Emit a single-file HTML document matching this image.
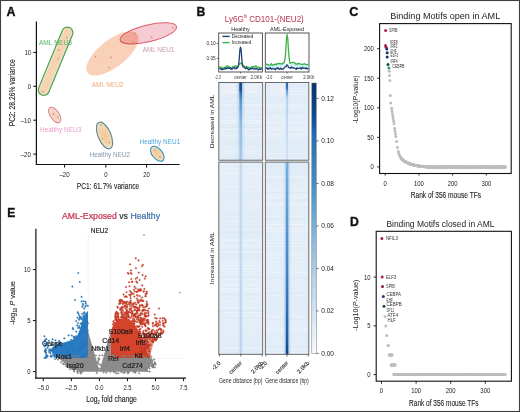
<!DOCTYPE html>
<html><head><meta charset="utf-8"><style>
html,body{margin:0;padding:0;background:#fff;}
svg{display:block;}
text{font-family:"Liberation Sans", sans-serif;}
</style></head><body>
<svg width="520" height="412" viewBox="0 0 520 412">
<rect width="520" height="412" fill="#fff"/>
<text x="6.6" y="15.5" font-size="12.4" fill="#111" font-weight="bold" stroke="#111" stroke-width="0.35">A</text>
<line x1="36.4" y1="21.4" x2="36.4" y2="165.1" stroke="#111" stroke-width="1.2"/>
<line x1="35.8" y1="164.5" x2="179.6" y2="164.5" stroke="#111" stroke-width="1.2"/>
<line x1="33.2" y1="52.4" x2="36.4" y2="52.4" stroke="#111" stroke-width="1"/>
<text x="31" y="54.8" font-size="6.9" fill="#222" text-anchor="end" textLength="6.6" lengthAdjust="spacingAndGlyphs">10</text>
<line x1="33.2" y1="86.3" x2="36.4" y2="86.3" stroke="#111" stroke-width="1"/>
<text x="31" y="88.7" font-size="6.9" fill="#222" text-anchor="end" textLength="3.3" lengthAdjust="spacingAndGlyphs">0</text>
<line x1="33.2" y1="120.2" x2="36.4" y2="120.2" stroke="#111" stroke-width="1"/>
<text x="31" y="122.60000000000001" font-size="6.9" fill="#222" text-anchor="end" textLength="10.3" lengthAdjust="spacingAndGlyphs">–10</text>
<line x1="33.2" y1="154.1" x2="36.4" y2="154.1" stroke="#111" stroke-width="1"/>
<text x="31" y="156.5" font-size="6.9" fill="#222" text-anchor="end" textLength="10.3" lengthAdjust="spacingAndGlyphs">–20</text>
<line x1="64.6" y1="164.5" x2="64.6" y2="167.6" stroke="#111" stroke-width="1"/>
<text x="64.6" y="176.6" font-size="6.9" fill="#222" text-anchor="middle" textLength="10.3" lengthAdjust="spacingAndGlyphs">–20</text>
<line x1="105.8" y1="164.5" x2="105.8" y2="167.6" stroke="#111" stroke-width="1"/>
<text x="105.8" y="176.6" font-size="6.9" fill="#222" text-anchor="middle" textLength="3.3" lengthAdjust="spacingAndGlyphs">0</text>
<line x1="146.6" y1="164.5" x2="146.6" y2="167.6" stroke="#111" stroke-width="1"/>
<text x="146.6" y="176.6" font-size="6.9" fill="#222" text-anchor="middle" textLength="6.6" lengthAdjust="spacingAndGlyphs">20</text>
<text x="108" y="188.8" font-size="8.6" fill="#222" text-anchor="middle" textLength="62.3" lengthAdjust="spacingAndGlyphs" stroke="#222" stroke-width="0.1">PC1: 61.7% variance</text>
<text x="14.9" y="92.8" font-size="8.6" fill="#222" text-anchor="middle" textLength="67" lengthAdjust="spacingAndGlyphs" transform="rotate(-90 14.9 92.8)" stroke="#222" stroke-width="0.1">PC2: 28.26% variance</text>
<defs><radialGradient id="hg"><stop offset="0" stop-color="#f4c898"/><stop offset="0.6" stop-color="#f2d2a8"/><stop offset="1" stop-color="#eae8cc"/></radialGradient><radialGradient id="hg3"><stop offset="0" stop-color="#f3cdb8"/><stop offset="0.7" stop-color="#f4d8c8"/><stop offset="1" stop-color="#eee6d2"/></radialGradient><linearGradient id="ng" x1="0" y1="0" x2="0" y2="1"><stop offset="0" stop-color="#e6edd0"/><stop offset="0.25" stop-color="#f7d3b3"/><stop offset="0.75" stop-color="#f7d3b3"/><stop offset="1" stop-color="#e6edd0"/></linearGradient></defs>
<ellipse cx="112.5" cy="53.5" rx="31.5" ry="13.5" transform="rotate(-38 112.5 53.5)" fill="#f9d1b8" stroke="none"/>
<g style="mix-blend-mode:multiply">
<ellipse cx="148.3" cy="33.4" rx="29" ry="8.4" transform="rotate(-13.4 148.3 33.4)" fill="#f6cbd4" stroke="#dc5f6a" stroke-width="1.0"/>
</g>
<rect x="19.1" y="55.8" width="73" height="11" rx="5.5" transform="rotate(-67.6 55.6 61.3)" fill="url(#ng)" stroke="#45a04d" stroke-width="1.15"/>
<ellipse cx="54.7" cy="115" rx="8.9" ry="4.5" transform="rotate(56 54.7 115)" fill="url(#hg3)" stroke="#e07d8e" stroke-width="1.0"/>
<ellipse cx="104.5" cy="135.5" rx="14.2" ry="6.4" transform="rotate(67 104.5 135.5)" fill="url(#hg)" stroke="#62808f" stroke-width="1.1"/>
<ellipse cx="157.3" cy="153.8" rx="8.8" ry="5.0" transform="rotate(50 157.3 153.8)" fill="url(#hg)" stroke="#2f8cbc" stroke-width="1.1"/>
<circle cx="67" cy="37.4" r="0.85" fill="#bf927a" opacity="0.85"/>
<circle cx="58.9" cy="50" r="0.85" fill="#bf927a" opacity="0.85"/>
<circle cx="58.3" cy="58.8" r="0.85" fill="#bf927a" opacity="0.85"/>
<circle cx="42.8" cy="91.7" r="0.85" fill="#bf927a" opacity="0.85"/>
<circle cx="95.5" cy="56.5" r="0.85" fill="#bf927a" opacity="0.85"/>
<circle cx="111" cy="57.4" r="0.85" fill="#bf927a" opacity="0.85"/>
<circle cx="109" cy="67.6" r="0.85" fill="#bf927a" opacity="0.85"/>
<circle cx="135" cy="33.4" r="0.85" fill="#bf927a" opacity="0.85"/>
<circle cx="133.6" cy="42" r="0.85" fill="#bf927a" opacity="0.85"/>
<circle cx="151.7" cy="37.2" r="0.85" fill="#bf927a" opacity="0.85"/>
<circle cx="172.8" cy="27.6" r="0.85" fill="#bf927a" opacity="0.85"/>
<circle cx="53.4" cy="113.9" r="0.85" fill="#bf927a" opacity="0.85"/>
<circle cx="58" cy="117" r="0.85" fill="#bf927a" opacity="0.85"/>
<circle cx="101" cy="125.2" r="0.85" fill="#bf927a" opacity="0.85"/>
<circle cx="102.2" cy="138.6" r="0.85" fill="#bf927a" opacity="0.85"/>
<circle cx="109.3" cy="142.6" r="0.85" fill="#bf927a" opacity="0.85"/>
<circle cx="155" cy="150" r="0.85" fill="#bf927a" opacity="0.85"/>
<circle cx="160" cy="157" r="0.85" fill="#bf927a" opacity="0.85"/>
<text x="38.9" y="45.2" font-size="6.6" fill="#5cb463" textLength="33" lengthAdjust="spacingAndGlyphs">AML NEU3</text>
<text x="142.7" y="51.5" font-size="6.6" fill="#c99aa8" textLength="31.7" lengthAdjust="spacingAndGlyphs">AML NEU1</text>
<text x="91.7" y="86.6" font-size="6.6" fill="#f0a878" textLength="31.7" lengthAdjust="spacingAndGlyphs">AML NEU2</text>
<text x="40" y="132.3" font-size="6.6" fill="#ec9cc8" textLength="41.4" lengthAdjust="spacingAndGlyphs">Healthy NEU3</text>
<text x="89.6" y="156.7" font-size="6.6" fill="#8095aa" textLength="40.5" lengthAdjust="spacingAndGlyphs">Healthy NEU2</text>
<text x="139.5" y="143.7" font-size="6.6" fill="#4ea6d8" textLength="40.8" lengthAdjust="spacingAndGlyphs">Healthy NEU1</text>
<text x="196.5" y="15.8" font-size="12.2" fill="#111" font-weight="bold" stroke="#111" stroke-width="0.35">B</text>
<text x="224.8" y="21.8" font-size="8.6" fill="#b8334f" textLength="79" lengthAdjust="spacingAndGlyphs">Ly6G<tspan font-size="4.5" dy="-3.6">hi</tspan><tspan dy="3.6"> CD101-(NEU2)</tspan></text>
<text x="240.6" y="30.8" font-size="6.0" fill="#222" text-anchor="middle" textLength="18.5" lengthAdjust="spacingAndGlyphs">Healthy</text>
<text x="287.1" y="30.8" font-size="6.0" fill="#222" text-anchor="middle" textLength="34" lengthAdjust="spacingAndGlyphs">AML-Exposed</text>
<rect x="218.7" y="33" width="43.7" height="39" fill="#fff" stroke="#444" stroke-width="0.9"/>
<polygon points="219.2,66.7 219.8,67.0 220.4,67.4 221.0,67.0 221.6,67.2 222.2,68.2 222.9,68.5 223.5,68.1 224.1,67.4 224.7,67.4 225.3,67.0 225.9,67.3 226.5,66.4 227.1,65.8 227.7,65.8 228.3,66.3 229.0,66.5 229.6,67.2 230.2,67.6 230.8,67.9 231.4,67.8 232.0,67.8 232.6,66.7 233.2,66.3 233.8,66.3 234.4,67.5 235.1,65.9 235.7,65.8 236.3,66.3 236.9,67.1 237.5,66.9 238.1,66.2 238.7,65.3 239.3,63.7 239.9,64.0 240.5,63.4 241.2,62.9 241.8,63.7 242.4,64.5 243.0,65.3 243.6,65.7 244.2,66.0 244.8,66.7 245.4,67.1 246.0,67.1 246.6,66.4 247.3,66.8 247.9,66.8 248.5,67.2 249.1,67.8 249.7,67.9 250.3,67.6 250.9,67.8 251.5,66.8 252.1,66.7 252.7,66.8 253.4,66.7 254.0,66.4 254.6,67.0 255.2,66.5 255.8,65.8 256.4,66.2 257.0,66.9 257.6,67.4 258.2,67.1 258.8,67.2 259.5,67.4 260.1,68.4 260.7,68.2 261.3,67.5 261.9,67.7 261.9,69.1 261.3,69.2 260.7,69.5 260.1,69.0 259.5,68.8 258.8,69.5 258.2,70.0 257.6,68.8 257.0,68.8 256.4,68.5 255.8,69.0 255.2,68.4 254.6,68.9 254.0,69.1 253.4,68.9 252.7,68.0 252.1,68.3 251.5,68.7 250.9,69.0 250.3,68.7 249.7,69.1 249.1,69.6 248.5,69.9 247.9,68.7 247.3,68.4 246.6,67.5 246.0,68.6 245.4,68.6 244.8,67.9 244.2,67.2 243.6,67.2 243.0,66.8 242.4,65.2 241.8,64.2 241.2,63.4 240.5,63.9 239.9,64.5 239.3,64.2 238.7,65.8 238.1,66.7 237.5,68.0 236.9,67.6 236.3,68.7 235.7,68.4 235.1,68.8 234.4,68.0 233.8,67.8 233.2,67.8 232.6,68.4 232.0,69.5 231.4,68.7 230.8,69.0 230.2,68.1 229.6,68.3 229.0,68.4 228.3,68.0 227.7,67.6 227.1,68.7 226.5,68.3 225.9,68.2 225.3,69.0 224.7,68.5 224.1,68.9 223.5,69.2 222.9,69.0 222.2,69.8 221.6,69.2 221.0,69.5 220.4,68.5 219.8,68.7 219.2,68.5" fill="#bff0ee" opacity="0.8"/>
<polyline points="219.2,66.7 219.8,67.0 220.4,67.4 221.0,67.0 221.6,67.2 222.2,68.2 222.9,68.5 223.5,68.1 224.1,67.4 224.7,67.4 225.3,67.0 225.9,67.3 226.5,66.4 227.1,65.8 227.7,65.8 228.3,66.3 229.0,66.5 229.6,67.2 230.2,67.6 230.8,67.9 231.4,67.8 232.0,67.8 232.6,66.7 233.2,66.3 233.8,66.3 234.4,67.5 235.1,65.9 235.7,65.8 236.3,66.3 236.9,67.1 237.5,66.9 238.1,66.2 238.7,65.3 239.3,63.7 239.9,64.0 240.5,63.4 241.2,62.9 241.8,63.7 242.4,64.5 243.0,65.3 243.6,65.7 244.2,66.0 244.8,66.7 245.4,67.1 246.0,67.1 246.6,66.4 247.3,66.8 247.9,66.8 248.5,67.2 249.1,67.8 249.7,67.9 250.3,67.6 250.9,67.8 251.5,66.8 252.1,66.7 252.7,66.8 253.4,66.7 254.0,66.4 254.6,67.0 255.2,66.5 255.8,65.8 256.4,66.2 257.0,66.9 257.6,67.4 258.2,67.1 258.8,67.2 259.5,67.4 260.1,68.4 260.7,68.2 261.3,67.5 261.9,67.7" fill="none" stroke="#3cb54a" stroke-width="1.3" stroke-linejoin="round"/>
<polyline points="219.2,68.5 219.8,68.7 220.4,68.5 221.0,69.5 221.6,69.2 222.2,69.8 222.9,68.9 223.5,69.2 224.1,68.9 224.7,68.5 225.3,69.0 225.9,68.2 226.5,68.3 227.1,68.7 227.7,67.6 228.3,68.0 229.0,68.4 229.6,68.3 230.2,67.6 230.8,69.0 231.4,68.7 232.0,69.5 232.6,68.4 233.2,67.8 233.8,67.8 234.4,67.7 235.1,68.8 235.7,68.4 236.3,68.7 236.9,67.6 237.5,68.0 238.1,66.6 238.7,64.3 239.3,58.2 239.9,49.6 240.5,47.1 241.2,50.5 241.8,58.5 242.4,65.2 243.0,66.8 243.6,67.2 244.2,67.2 244.8,67.9 245.4,68.6 246.0,68.6 246.6,67.5 247.3,68.4 247.9,68.7 248.5,69.9 249.1,69.6 249.7,69.1 250.3,68.7 250.9,69.0 251.5,68.7 252.1,68.3 252.7,68.0 253.4,68.9 254.0,69.1 254.6,68.9 255.2,68.4 255.8,69.0 256.4,68.5 257.0,68.8 257.6,68.8 258.2,70.0 258.8,69.5 259.5,68.8 260.1,69.0 260.7,69.5 261.3,69.2 261.9,69.1" fill="none" stroke="#1d3f78" stroke-width="1.3" stroke-linejoin="round"/>
<line x1="240.54999999999998" y1="72" x2="240.54999999999998" y2="73.5" stroke="#444" stroke-width="0.8"/>
<rect x="265.3" y="33" width="43.7" height="39" fill="#fff" stroke="#444" stroke-width="0.9"/>
<polygon points="265.8,64.8 266.4,64.1 267.0,64.1 267.6,64.9 268.2,64.4 268.9,65.3 269.5,65.4 270.1,65.1 270.7,64.4 271.3,63.6 271.9,65.2 272.5,65.3 273.1,64.6 273.7,64.7 274.3,65.0 274.9,64.1 275.6,64.0 276.2,64.8 276.8,64.1 277.4,63.9 278.0,63.2 278.6,63.8 279.2,63.4 279.8,63.4 280.4,64.0 281.1,63.7 281.7,63.6 282.3,64.0 282.9,63.0 283.5,63.0 284.1,62.7 284.7,60.6 285.3,56.6 285.9,48.6 286.5,38.6 287.1,34.5 287.8,38.7 288.4,49.4 289.0,56.7 289.6,61.7 290.2,63.3 290.8,62.6 291.4,62.7 292.0,62.5 292.6,62.5 293.2,62.3 293.9,62.5 294.5,63.0 295.1,63.0 295.7,64.1 296.3,64.1 296.9,63.9 297.5,64.0 298.1,63.2 298.7,63.8 299.4,63.6 300.0,63.8 300.6,64.2 301.2,64.3 301.8,64.3 302.4,64.4 303.0,64.3 303.6,64.2 304.2,63.4 304.8,64.1 305.4,64.3 306.1,64.3 306.7,64.7 307.3,64.7 307.9,64.3 308.5,65.2 308.5,68.4 307.9,67.8 307.3,68.2 306.7,68.2 306.1,67.8 305.4,67.8 304.8,67.6 304.2,66.9 303.6,67.7 303.0,67.8 302.4,67.3 301.8,67.8 301.2,67.8 300.6,67.7 300.0,67.3 299.4,67.1 298.7,67.3 298.1,66.7 297.5,67.5 296.9,67.4 296.3,67.6 295.7,67.6 295.1,66.5 294.5,66.5 293.9,66.0 293.2,65.8 292.6,66.0 292.0,66.0 291.4,66.2 290.8,66.1 290.2,66.8 289.6,65.2 289.0,60.2 288.4,52.9 287.8,42.2 287.1,38.0 286.5,42.1 285.9,52.1 285.3,60.1 284.7,64.1 284.1,66.2 283.5,66.5 282.9,66.5 282.3,67.5 281.7,67.1 281.1,67.2 280.4,67.5 279.8,66.9 279.2,66.9 278.6,67.3 278.0,66.7 277.4,67.4 276.8,67.6 276.2,68.3 275.6,67.5 274.9,67.6 274.3,68.5 273.7,68.2 273.1,68.1 272.5,68.4 271.9,68.7 271.3,67.1 270.7,67.9 270.1,67.7 269.5,68.7 268.9,68.3 268.2,67.9 267.6,68.4 267.0,67.6 266.4,67.6 265.8,68.3" fill="#bff0ee" opacity="0.8"/>
<polyline points="265.8,64.8 266.4,64.1 267.0,64.1 267.6,64.9 268.2,64.4 268.9,65.3 269.5,65.4 270.1,65.1 270.7,64.4 271.3,63.6 271.9,65.2 272.5,65.3 273.1,64.6 273.7,64.7 274.3,65.0 274.9,64.1 275.6,64.0 276.2,64.8 276.8,64.1 277.4,63.9 278.0,63.2 278.6,63.8 279.2,63.4 279.8,63.4 280.4,64.0 281.1,63.7 281.7,63.6 282.3,64.0 282.9,63.0 283.5,63.0 284.1,62.7 284.7,60.6 285.3,56.6 285.9,48.6 286.5,38.6 287.1,34.5 287.8,38.7 288.4,49.4 289.0,56.7 289.6,61.7 290.2,63.3 290.8,62.6 291.4,62.7 292.0,62.5 292.6,62.5 293.2,62.3 293.9,62.5 294.5,63.0 295.1,63.0 295.7,64.1 296.3,64.1 296.9,63.9 297.5,64.0 298.1,63.2 298.7,63.8 299.4,63.6 300.0,63.8 300.6,64.2 301.2,64.3 301.8,64.3 302.4,64.4 303.0,64.3 303.6,64.2 304.2,63.4 304.8,64.1 305.4,64.3 306.1,64.3 306.7,64.7 307.3,64.7 307.9,64.3 308.5,65.2" fill="none" stroke="#3cb54a" stroke-width="1.3" stroke-linejoin="round"/>
<polyline points="265.8,68.6 266.4,67.9 267.0,67.8 267.6,69.0 268.2,69.3 268.9,68.3 269.5,68.7 270.1,67.7 270.7,67.9 271.3,69.3 271.9,68.9 272.5,68.4 273.1,68.7 273.7,68.9 274.3,69.2 274.9,68.8 275.6,69.8 276.2,68.4 276.8,68.2 277.4,68.3 278.0,67.6 278.6,68.9 279.2,69.3 279.8,69.0 280.4,68.1 281.1,69.1 281.7,68.5 282.3,69.1 282.9,69.0 283.5,68.8 284.1,68.0 284.7,67.0 285.3,66.8 285.9,66.9 286.5,65.3 287.1,64.9 287.8,65.5 288.4,67.2 289.0,67.6 289.6,67.8 290.2,67.5 290.8,68.3 291.4,67.0 292.0,67.7 292.6,67.3 293.2,68.1 293.9,68.0 294.5,68.1 295.1,68.4 295.7,69.0 296.3,69.4 296.9,67.8 297.5,68.2 298.1,68.6 298.7,68.3 299.4,68.3 300.0,67.8 300.6,68.5 301.2,69.1 301.8,67.9 302.4,67.3 303.0,68.4 303.6,68.1 304.2,68.2 304.8,68.2 305.4,68.7 306.1,67.8 306.7,68.7 307.3,69.0 307.9,68.3 308.5,68.4" fill="none" stroke="#1d3f78" stroke-width="1.3" stroke-linejoin="round"/>
<line x1="287.15" y1="72" x2="287.15" y2="73.5" stroke="#444" stroke-width="0.8"/>
<text x="215" y="79.0" font-size="4.7" fill="#333" textLength="5.8" lengthAdjust="spacingAndGlyphs">-2.0</text>
<text x="234.2" y="79.0" font-size="4.7" fill="#333" textLength="12.5" lengthAdjust="spacingAndGlyphs">center</text>
<text x="250.6" y="79.0" font-size="4.7" fill="#333" textLength="11.5" lengthAdjust="spacingAndGlyphs">2.0Kb</text>
<text x="266" y="79.0" font-size="4.7" fill="#333" textLength="6.3" lengthAdjust="spacingAndGlyphs">-2.0</text>
<text x="281.3" y="79.0" font-size="4.7" fill="#333" textLength="11.6" lengthAdjust="spacingAndGlyphs">center</text>
<text x="303.2" y="79.0" font-size="4.7" fill="#333" textLength="11.2" lengthAdjust="spacingAndGlyphs">2.0Kb</text>
<line x1="216.8" y1="43.4" x2="218.7" y2="43.4" stroke="#444" stroke-width="0.8"/>
<text x="215.8" y="45.1" font-size="4.8" fill="#333" text-anchor="end">0.10</text>
<line x1="216.8" y1="58.4" x2="218.7" y2="58.4" stroke="#444" stroke-width="0.8"/>
<text x="215.8" y="60.1" font-size="4.8" fill="#333" text-anchor="end">0.05</text>
<line x1="222.4" y1="36.4" x2="229.7" y2="36.4" stroke="#1d3f78" stroke-width="1.4"/>
<text x="231.8" y="38.0" font-size="4.8" fill="#222" textLength="21.5" lengthAdjust="spacingAndGlyphs">Decreased</text>
<line x1="222.4" y1="42.6" x2="229.7" y2="42.6" stroke="#3cb54a" stroke-width="1.4"/>
<text x="231.8" y="44.2" font-size="4.8" fill="#222" textLength="19.5" lengthAdjust="spacingAndGlyphs">Increased</text>
<defs>
<linearGradient id="cb" x1="0" y1="0" x2="0" y2="1"><stop offset="0" stop-color="#08306b"/><stop offset="0.12" stop-color="#0d4a94"/><stop offset="0.2" stop-color="#2171b5"/><stop offset="0.38" stop-color="#4292c6"/><stop offset="0.55" stop-color="#7fb3da"/><stop offset="0.72" stop-color="#b4d2ea"/><stop offset="0.88" stop-color="#dbe9f6"/><stop offset="1" stop-color="#f7fbff"/></linearGradient>
<linearGradient id="hd" x1="0" y1="0" x2="0" y2="1"><stop offset="0" stop-color="#18457f"/><stop offset="0.1" stop-color="#2a66a8"/><stop offset="0.25" stop-color="#5d98cf"/><stop offset="0.55" stop-color="#94bde3"/><stop offset="1" stop-color="#a8c9e8"/></linearGradient>
<linearGradient id="ad" x1="0" y1="0" x2="0" y2="1"><stop offset="0" stop-color="#23609f"/><stop offset="0.08" stop-color="#4584c3"/><stop offset="0.2" stop-color="#b4d0ec"/><stop offset="1" stop-color="#d0e2f4"/></linearGradient>
<linearGradient id="hi" x1="0" y1="0" x2="0" y2="1"><stop offset="0" stop-color="#c6daef"/><stop offset="1" stop-color="#bad3ec"/></linearGradient>
<linearGradient id="ai" x1="0" y1="0" x2="0" y2="1"><stop offset="0" stop-color="#78aedb"/><stop offset="0.3" stop-color="#5a98d0"/><stop offset="0.6" stop-color="#3f80c4"/><stop offset="0.8" stop-color="#2a6ab2"/><stop offset="0.92" stop-color="#1f5aa2"/><stop offset="1" stop-color="#163f80"/></linearGradient>
<linearGradient id="halo" x1="0" y1="0" x2="1" y2="0"><stop offset="0" stop-color="#8fb9e2" stop-opacity="0"/><stop offset="0.5" stop-color="#8fb9e2" stop-opacity="1"/><stop offset="1" stop-color="#8fb9e2" stop-opacity="0"/></linearGradient>
</defs>
<rect x="218.8" y="82.5" width="43.9" height="77.7" fill="#e2edf8"/>
<rect x="218.8" y="82.5" width="43.9" height="0.5" fill="#d6e4f4" opacity="0.42"/>
<rect x="218.8" y="84.2" width="43.9" height="0.7" fill="#ffffff" opacity="0.42"/>
<rect x="218.8" y="85.7" width="43.9" height="1.0" fill="#ffffff" opacity="0.2"/>
<rect x="218.8" y="88.5" width="43.9" height="1.0" fill="#ffffff" opacity="0.2"/>
<rect x="218.8" y="92.0" width="43.9" height="1.0" fill="#ffffff" opacity="0.42"/>
<rect x="218.8" y="95.5" width="43.9" height="1.0" fill="#ffffff" opacity="0.2"/>
<rect x="218.8" y="97.7" width="43.9" height="1.0" fill="#d6e4f4" opacity="0.3"/>
<rect x="218.8" y="99.5" width="43.9" height="1.0" fill="#ffffff" opacity="0.2"/>
<rect x="218.8" y="101.3" width="43.9" height="0.7" fill="#ffffff" opacity="0.2"/>
<rect x="218.8" y="104.5" width="43.9" height="1.0" fill="#ffffff" opacity="0.42"/>
<rect x="218.8" y="108.0" width="43.9" height="0.7" fill="#d6e4f4" opacity="0.42"/>
<rect x="218.8" y="111.2" width="43.9" height="0.5" fill="#ffffff" opacity="0.3"/>
<rect x="218.8" y="112.5" width="43.9" height="0.5" fill="#ffffff" opacity="0.3"/>
<rect x="218.8" y="114.8" width="43.9" height="1.0" fill="#d6e4f4" opacity="0.3"/>
<rect x="218.8" y="117.6" width="43.9" height="0.7" fill="#ffffff" opacity="0.42"/>
<rect x="218.8" y="120.1" width="43.9" height="1.0" fill="#ffffff" opacity="0.42"/>
<rect x="218.8" y="122.3" width="43.9" height="0.7" fill="#ffffff" opacity="0.42"/>
<rect x="218.8" y="124.8" width="43.9" height="1.0" fill="#d6e4f4" opacity="0.42"/>
<rect x="218.8" y="127.0" width="43.9" height="1.0" fill="#d6e4f4" opacity="0.3"/>
<rect x="218.8" y="128.8" width="43.9" height="1.0" fill="#ffffff" opacity="0.42"/>
<rect x="218.8" y="131.6" width="43.9" height="0.7" fill="#ffffff" opacity="0.2"/>
<rect x="218.8" y="134.8" width="43.9" height="1.0" fill="#ffffff" opacity="0.3"/>
<rect x="218.8" y="137.6" width="43.9" height="0.5" fill="#ffffff" opacity="0.3"/>
<rect x="218.8" y="138.9" width="43.9" height="0.7" fill="#ffffff" opacity="0.3"/>
<rect x="218.8" y="140.4" width="43.9" height="0.5" fill="#d6e4f4" opacity="0.42"/>
<rect x="218.8" y="141.7" width="43.9" height="0.7" fill="#d6e4f4" opacity="0.42"/>
<rect x="218.8" y="144.2" width="43.9" height="1.0" fill="#d6e4f4" opacity="0.3"/>
<rect x="218.8" y="146.4" width="43.9" height="0.5" fill="#ffffff" opacity="0.3"/>
<rect x="218.8" y="147.7" width="43.9" height="0.5" fill="#d6e4f4" opacity="0.42"/>
<rect x="218.8" y="149.0" width="43.9" height="0.5" fill="#ffffff" opacity="0.3"/>
<rect x="218.8" y="151.3" width="43.9" height="0.5" fill="#ffffff" opacity="0.42"/>
<rect x="218.8" y="153.6" width="43.9" height="0.7" fill="#ffffff" opacity="0.3"/>
<rect x="218.8" y="156.8" width="43.9" height="0.7" fill="#d6e4f4" opacity="0.3"/>
<rect x="218.8" y="160.0" width="43.9" height="1.0" fill="#d6e4f4" opacity="0.42"/>
<rect x="236.2" y="82.5" width="9" height="15.6" fill="url(#halo)" opacity="0.9"/>
<rect x="236.2" y="98.0" width="9" height="15.6" fill="url(#halo)" opacity="0.6"/>
<rect x="236.2" y="113.6" width="9" height="15.6" fill="url(#halo)" opacity="0.45"/>
<rect x="236.2" y="129.1" width="9" height="15.6" fill="url(#halo)" opacity="0.4"/>
<rect x="236.2" y="144.7" width="9" height="15.6" fill="url(#halo)" opacity="0.35"/>
<rect x="239.45" y="82.5" width="2.6" height="77.7" fill="url(#hd)"/>
<rect x="218.8" y="82.5" width="43.9" height="77.7" fill="none" stroke="#5a5a5a" stroke-width="0.9"/>
<rect x="265.3" y="82.5" width="43.5" height="77.7" fill="#e2edf8"/>
<rect x="265.3" y="82.5" width="43.5" height="1.0" fill="#ffffff" opacity="0.42"/>
<rect x="265.3" y="86.0" width="43.5" height="1.0" fill="#d6e4f4" opacity="0.42"/>
<rect x="265.3" y="88.2" width="43.5" height="0.7" fill="#ffffff" opacity="0.3"/>
<rect x="265.3" y="90.7" width="43.5" height="1.0" fill="#ffffff" opacity="0.3"/>
<rect x="265.3" y="94.2" width="43.5" height="1.0" fill="#ffffff" opacity="0.3"/>
<rect x="265.3" y="97.7" width="43.5" height="1.0" fill="#d6e4f4" opacity="0.42"/>
<rect x="265.3" y="99.9" width="43.5" height="0.5" fill="#d6e4f4" opacity="0.42"/>
<rect x="265.3" y="102.2" width="43.5" height="0.7" fill="#d6e4f4" opacity="0.3"/>
<rect x="265.3" y="104.7" width="43.5" height="1.0" fill="#ffffff" opacity="0.42"/>
<rect x="265.3" y="108.2" width="43.5" height="0.5" fill="#ffffff" opacity="0.42"/>
<rect x="265.3" y="109.5" width="43.5" height="0.7" fill="#d6e4f4" opacity="0.3"/>
<rect x="265.3" y="112.7" width="43.5" height="0.7" fill="#d6e4f4" opacity="0.42"/>
<rect x="265.3" y="115.2" width="43.5" height="0.5" fill="#ffffff" opacity="0.3"/>
<rect x="265.3" y="117.5" width="43.5" height="0.7" fill="#ffffff" opacity="0.42"/>
<rect x="265.3" y="120.0" width="43.5" height="0.7" fill="#ffffff" opacity="0.2"/>
<rect x="265.3" y="121.9" width="43.5" height="0.7" fill="#ffffff" opacity="0.42"/>
<rect x="265.3" y="124.4" width="43.5" height="0.5" fill="#ffffff" opacity="0.3"/>
<rect x="265.3" y="127.4" width="43.5" height="1.0" fill="#ffffff" opacity="0.42"/>
<rect x="265.3" y="129.2" width="43.5" height="1.0" fill="#ffffff" opacity="0.3"/>
<rect x="265.3" y="131.4" width="43.5" height="0.7" fill="#ffffff" opacity="0.2"/>
<rect x="265.3" y="133.9" width="43.5" height="1.0" fill="#ffffff" opacity="0.42"/>
<rect x="265.3" y="137.4" width="43.5" height="0.7" fill="#ffffff" opacity="0.2"/>
<rect x="265.3" y="138.9" width="43.5" height="1.0" fill="#ffffff" opacity="0.2"/>
<rect x="265.3" y="141.1" width="43.5" height="0.7" fill="#d6e4f4" opacity="0.3"/>
<rect x="265.3" y="142.6" width="43.5" height="1.0" fill="#d6e4f4" opacity="0.3"/>
<rect x="265.3" y="144.8" width="43.5" height="0.7" fill="#d6e4f4" opacity="0.3"/>
<rect x="265.3" y="147.3" width="43.5" height="0.7" fill="#d6e4f4" opacity="0.3"/>
<rect x="265.3" y="150.5" width="43.5" height="0.7" fill="#d6e4f4" opacity="0.3"/>
<rect x="265.3" y="153.7" width="43.5" height="0.5" fill="#ffffff" opacity="0.3"/>
<rect x="265.3" y="155.4" width="43.5" height="0.5" fill="#d6e4f4" opacity="0.3"/>
<rect x="265.3" y="158.4" width="43.5" height="1.0" fill="#ffffff" opacity="0.42"/>
<rect x="265.3" y="160.2" width="43.5" height="1.0" fill="#d6e4f4" opacity="0.3"/>
<rect x="284.1" y="82.5" width="6" height="15.6" fill="url(#halo)" opacity="0.35"/>
<rect x="284.1" y="98.0" width="6" height="15.6" fill="url(#halo)" opacity="0.12"/>
<rect x="284.1" y="113.6" width="6" height="15.6" fill="url(#halo)" opacity="0.08"/>
<rect x="284.1" y="129.1" width="6" height="15.6" fill="url(#halo)" opacity="0.08"/>
<rect x="284.1" y="144.7" width="6" height="15.6" fill="url(#halo)" opacity="0.08"/>
<rect x="286.15" y="82.5" width="1.8" height="77.7" fill="url(#ad)"/>
<rect x="265.3" y="82.5" width="43.5" height="77.7" fill="none" stroke="#5a5a5a" stroke-width="0.9"/>
<rect x="218.8" y="162.1" width="43.9" height="192.2" fill="#e2edf8"/>
<rect x="218.8" y="162.1" width="43.9" height="1.0" fill="#ffffff" opacity="0.3"/>
<rect x="218.8" y="163.9" width="43.9" height="1.0" fill="#ffffff" opacity="0.3"/>
<rect x="218.8" y="166.1" width="43.9" height="0.5" fill="#d6e4f4" opacity="0.2"/>
<rect x="218.8" y="167.8" width="43.9" height="0.7" fill="#ffffff" opacity="0.42"/>
<rect x="218.8" y="169.3" width="43.9" height="0.7" fill="#ffffff" opacity="0.42"/>
<rect x="218.8" y="171.2" width="43.9" height="1.0" fill="#ffffff" opacity="0.3"/>
<rect x="218.8" y="173.0" width="43.9" height="1.0" fill="#ffffff" opacity="0.42"/>
<rect x="218.8" y="174.8" width="43.9" height="1.0" fill="#ffffff" opacity="0.2"/>
<rect x="218.8" y="177.0" width="43.9" height="0.7" fill="#ffffff" opacity="0.42"/>
<rect x="218.8" y="178.5" width="43.9" height="0.7" fill="#ffffff" opacity="0.2"/>
<rect x="218.8" y="180.0" width="43.9" height="1.0" fill="#ffffff" opacity="0.2"/>
<rect x="218.8" y="182.2" width="43.9" height="0.7" fill="#ffffff" opacity="0.2"/>
<rect x="218.8" y="185.4" width="43.9" height="1.0" fill="#ffffff" opacity="0.42"/>
<rect x="218.8" y="187.2" width="43.9" height="0.7" fill="#ffffff" opacity="0.2"/>
<rect x="218.8" y="190.4" width="43.9" height="0.5" fill="#ffffff" opacity="0.3"/>
<rect x="218.8" y="191.7" width="43.9" height="0.5" fill="#ffffff" opacity="0.2"/>
<rect x="218.8" y="193.0" width="43.9" height="0.5" fill="#ffffff" opacity="0.2"/>
<rect x="218.8" y="194.3" width="43.9" height="1.0" fill="#d6e4f4" opacity="0.2"/>
<rect x="218.8" y="197.8" width="43.9" height="0.7" fill="#ffffff" opacity="0.2"/>
<rect x="218.8" y="199.3" width="43.9" height="0.7" fill="#d6e4f4" opacity="0.3"/>
<rect x="218.8" y="202.5" width="43.9" height="1.0" fill="#ffffff" opacity="0.3"/>
<rect x="218.8" y="205.3" width="43.9" height="0.5" fill="#ffffff" opacity="0.3"/>
<rect x="218.8" y="206.6" width="43.9" height="0.5" fill="#ffffff" opacity="0.42"/>
<rect x="218.8" y="209.6" width="43.9" height="0.5" fill="#ffffff" opacity="0.42"/>
<rect x="218.8" y="210.9" width="43.9" height="0.7" fill="#d6e4f4" opacity="0.3"/>
<rect x="218.8" y="214.1" width="43.9" height="1.0" fill="#d6e4f4" opacity="0.2"/>
<rect x="218.8" y="217.6" width="43.9" height="0.5" fill="#d6e4f4" opacity="0.3"/>
<rect x="218.8" y="220.6" width="43.9" height="1.0" fill="#ffffff" opacity="0.3"/>
<rect x="218.8" y="224.1" width="43.9" height="0.7" fill="#ffffff" opacity="0.2"/>
<rect x="218.8" y="226.0" width="43.9" height="1.0" fill="#d6e4f4" opacity="0.3"/>
<rect x="218.8" y="227.8" width="43.9" height="0.7" fill="#ffffff" opacity="0.2"/>
<rect x="218.8" y="229.7" width="43.9" height="0.5" fill="#ffffff" opacity="0.3"/>
<rect x="218.8" y="232.0" width="43.9" height="0.5" fill="#d6e4f4" opacity="0.3"/>
<rect x="218.8" y="233.3" width="43.9" height="1.0" fill="#d6e4f4" opacity="0.42"/>
<rect x="218.8" y="236.8" width="43.9" height="1.0" fill="#d6e4f4" opacity="0.2"/>
<rect x="218.8" y="239.6" width="43.9" height="1.0" fill="#ffffff" opacity="0.42"/>
<rect x="218.8" y="241.4" width="43.9" height="0.7" fill="#ffffff" opacity="0.2"/>
<rect x="218.8" y="244.6" width="43.9" height="0.5" fill="#ffffff" opacity="0.42"/>
<rect x="218.8" y="245.9" width="43.9" height="1.0" fill="#ffffff" opacity="0.3"/>
<rect x="218.8" y="247.7" width="43.9" height="0.7" fill="#ffffff" opacity="0.2"/>
<rect x="218.8" y="249.2" width="43.9" height="1.0" fill="#d6e4f4" opacity="0.3"/>
<rect x="218.8" y="252.0" width="43.9" height="1.0" fill="#ffffff" opacity="0.3"/>
<rect x="218.8" y="253.8" width="43.9" height="1.0" fill="#d6e4f4" opacity="0.42"/>
<rect x="218.8" y="256.0" width="43.9" height="0.5" fill="#d6e4f4" opacity="0.42"/>
<rect x="218.8" y="257.3" width="43.9" height="1.0" fill="#d6e4f4" opacity="0.2"/>
<rect x="218.8" y="260.1" width="43.9" height="1.0" fill="#ffffff" opacity="0.2"/>
<rect x="218.8" y="262.3" width="43.9" height="0.5" fill="#ffffff" opacity="0.42"/>
<rect x="218.8" y="265.3" width="43.9" height="1.0" fill="#ffffff" opacity="0.42"/>
<rect x="218.8" y="268.1" width="43.9" height="0.7" fill="#ffffff" opacity="0.42"/>
<rect x="218.8" y="270.6" width="43.9" height="1.0" fill="#ffffff" opacity="0.3"/>
<rect x="218.8" y="274.1" width="43.9" height="1.0" fill="#ffffff" opacity="0.2"/>
<rect x="218.8" y="276.3" width="43.9" height="0.7" fill="#d6e4f4" opacity="0.42"/>
<rect x="218.8" y="279.5" width="43.9" height="0.5" fill="#ffffff" opacity="0.42"/>
<rect x="218.8" y="281.2" width="43.9" height="0.5" fill="#ffffff" opacity="0.2"/>
<rect x="218.8" y="284.2" width="43.9" height="1.0" fill="#ffffff" opacity="0.42"/>
<rect x="218.8" y="286.4" width="43.9" height="0.5" fill="#ffffff" opacity="0.3"/>
<rect x="218.8" y="288.1" width="43.9" height="1.0" fill="#ffffff" opacity="0.42"/>
<rect x="218.8" y="290.3" width="43.9" height="1.0" fill="#ffffff" opacity="0.42"/>
<rect x="218.8" y="293.8" width="43.9" height="1.0" fill="#d6e4f4" opacity="0.42"/>
<rect x="218.8" y="296.6" width="43.9" height="0.5" fill="#ffffff" opacity="0.3"/>
<rect x="218.8" y="298.9" width="43.9" height="0.7" fill="#ffffff" opacity="0.3"/>
<rect x="218.8" y="300.8" width="43.9" height="1.0" fill="#ffffff" opacity="0.3"/>
<rect x="218.8" y="303.6" width="43.9" height="0.7" fill="#ffffff" opacity="0.2"/>
<rect x="218.8" y="306.8" width="43.9" height="1.0" fill="#ffffff" opacity="0.42"/>
<rect x="218.8" y="310.3" width="43.9" height="1.0" fill="#d6e4f4" opacity="0.42"/>
<rect x="218.8" y="312.1" width="43.9" height="0.7" fill="#ffffff" opacity="0.42"/>
<rect x="218.8" y="315.3" width="43.9" height="1.0" fill="#ffffff" opacity="0.2"/>
<rect x="218.8" y="317.5" width="43.9" height="0.5" fill="#d6e4f4" opacity="0.42"/>
<rect x="218.8" y="318.8" width="43.9" height="0.5" fill="#ffffff" opacity="0.3"/>
<rect x="218.8" y="320.5" width="43.9" height="0.7" fill="#ffffff" opacity="0.2"/>
<rect x="218.8" y="322.0" width="43.9" height="0.7" fill="#ffffff" opacity="0.2"/>
<rect x="218.8" y="324.5" width="43.9" height="0.5" fill="#ffffff" opacity="0.3"/>
<rect x="218.8" y="325.8" width="43.9" height="0.5" fill="#ffffff" opacity="0.2"/>
<rect x="218.8" y="328.1" width="43.9" height="0.5" fill="#ffffff" opacity="0.3"/>
<rect x="218.8" y="330.4" width="43.9" height="0.5" fill="#ffffff" opacity="0.2"/>
<rect x="218.8" y="332.7" width="43.9" height="0.7" fill="#ffffff" opacity="0.3"/>
<rect x="218.8" y="334.2" width="43.9" height="0.5" fill="#d6e4f4" opacity="0.42"/>
<rect x="218.8" y="337.2" width="43.9" height="0.7" fill="#d6e4f4" opacity="0.2"/>
<rect x="218.8" y="339.7" width="43.9" height="0.5" fill="#ffffff" opacity="0.3"/>
<rect x="218.8" y="342.7" width="43.9" height="0.5" fill="#d6e4f4" opacity="0.3"/>
<rect x="218.8" y="345.0" width="43.9" height="0.5" fill="#d6e4f4" opacity="0.42"/>
<rect x="218.8" y="347.3" width="43.9" height="1.0" fill="#ffffff" opacity="0.3"/>
<rect x="218.8" y="350.1" width="43.9" height="1.0" fill="#d6e4f4" opacity="0.42"/>
<rect x="218.8" y="352.9" width="43.9" height="0.5" fill="#d6e4f4" opacity="0.3"/>
<rect x="218.8" y="354.2" width="43.9" height="1.0" fill="#d6e4f4" opacity="0.3"/>
<rect x="237.8" y="162.1" width="6" height="38.5" fill="url(#halo)" opacity="0.22"/>
<rect x="237.8" y="200.5" width="6" height="38.5" fill="url(#halo)" opacity="0.22"/>
<rect x="237.8" y="239.0" width="6" height="38.5" fill="url(#halo)" opacity="0.22"/>
<rect x="237.8" y="277.4" width="6" height="38.5" fill="url(#halo)" opacity="0.22"/>
<rect x="237.8" y="315.9" width="6" height="38.5" fill="url(#halo)" opacity="0.22"/>
<rect x="239.85" y="162.1" width="1.8" height="192.2" fill="url(#hi)"/>
<rect x="218.8" y="162.1" width="43.9" height="192.2" fill="none" stroke="#5a5a5a" stroke-width="0.9"/>
<rect x="265.3" y="162.1" width="43.5" height="192.2" fill="#e2edf8"/>
<rect x="265.3" y="162.1" width="43.5" height="0.5" fill="#ffffff" opacity="0.42"/>
<rect x="265.3" y="163.8" width="43.5" height="1.0" fill="#d6e4f4" opacity="0.42"/>
<rect x="265.3" y="166.0" width="43.5" height="0.5" fill="#d6e4f4" opacity="0.3"/>
<rect x="265.3" y="169.0" width="43.5" height="0.5" fill="#d6e4f4" opacity="0.2"/>
<rect x="265.3" y="170.7" width="43.5" height="0.7" fill="#d6e4f4" opacity="0.42"/>
<rect x="265.3" y="173.9" width="43.5" height="1.0" fill="#d6e4f4" opacity="0.3"/>
<rect x="265.3" y="176.1" width="43.5" height="0.7" fill="#ffffff" opacity="0.3"/>
<rect x="265.3" y="178.0" width="43.5" height="1.0" fill="#ffffff" opacity="0.2"/>
<rect x="265.3" y="180.2" width="43.5" height="1.0" fill="#d6e4f4" opacity="0.42"/>
<rect x="265.3" y="183.7" width="43.5" height="0.7" fill="#ffffff" opacity="0.2"/>
<rect x="265.3" y="186.2" width="43.5" height="0.7" fill="#ffffff" opacity="0.2"/>
<rect x="265.3" y="187.7" width="43.5" height="0.7" fill="#ffffff" opacity="0.42"/>
<rect x="265.3" y="189.6" width="43.5" height="1.0" fill="#ffffff" opacity="0.42"/>
<rect x="265.3" y="192.4" width="43.5" height="0.7" fill="#d6e4f4" opacity="0.3"/>
<rect x="265.3" y="193.9" width="43.5" height="0.7" fill="#ffffff" opacity="0.3"/>
<rect x="265.3" y="195.8" width="43.5" height="0.7" fill="#ffffff" opacity="0.42"/>
<rect x="265.3" y="197.3" width="43.5" height="1.0" fill="#ffffff" opacity="0.42"/>
<rect x="265.3" y="199.5" width="43.5" height="1.0" fill="#d6e4f4" opacity="0.2"/>
<rect x="265.3" y="203.0" width="43.5" height="1.0" fill="#ffffff" opacity="0.42"/>
<rect x="265.3" y="205.2" width="43.5" height="1.0" fill="#ffffff" opacity="0.42"/>
<rect x="265.3" y="208.7" width="43.5" height="0.5" fill="#d6e4f4" opacity="0.42"/>
<rect x="265.3" y="210.4" width="43.5" height="1.0" fill="#ffffff" opacity="0.2"/>
<rect x="265.3" y="213.2" width="43.5" height="0.7" fill="#ffffff" opacity="0.3"/>
<rect x="265.3" y="216.4" width="43.5" height="0.7" fill="#ffffff" opacity="0.3"/>
<rect x="265.3" y="218.9" width="43.5" height="1.0" fill="#d6e4f4" opacity="0.3"/>
<rect x="265.3" y="221.7" width="43.5" height="1.0" fill="#ffffff" opacity="0.3"/>
<rect x="265.3" y="223.9" width="43.5" height="1.0" fill="#ffffff" opacity="0.42"/>
<rect x="265.3" y="225.7" width="43.5" height="1.0" fill="#ffffff" opacity="0.2"/>
<rect x="265.3" y="227.9" width="43.5" height="1.0" fill="#ffffff" opacity="0.42"/>
<rect x="265.3" y="230.1" width="43.5" height="0.5" fill="#ffffff" opacity="0.42"/>
<rect x="265.3" y="231.4" width="43.5" height="1.0" fill="#ffffff" opacity="0.42"/>
<rect x="265.3" y="233.2" width="43.5" height="1.0" fill="#d6e4f4" opacity="0.3"/>
<rect x="265.3" y="235.4" width="43.5" height="0.5" fill="#ffffff" opacity="0.3"/>
<rect x="265.3" y="236.7" width="43.5" height="0.5" fill="#d6e4f4" opacity="0.3"/>
<rect x="265.3" y="238.4" width="43.5" height="1.0" fill="#ffffff" opacity="0.2"/>
<rect x="265.3" y="240.2" width="43.5" height="0.7" fill="#ffffff" opacity="0.3"/>
<rect x="265.3" y="242.7" width="43.5" height="1.0" fill="#ffffff" opacity="0.42"/>
<rect x="265.3" y="244.5" width="43.5" height="1.0" fill="#d6e4f4" opacity="0.2"/>
<rect x="265.3" y="246.3" width="43.5" height="1.0" fill="#ffffff" opacity="0.3"/>
<rect x="265.3" y="248.1" width="43.5" height="0.5" fill="#d6e4f4" opacity="0.3"/>
<rect x="265.3" y="249.8" width="43.5" height="0.7" fill="#ffffff" opacity="0.3"/>
<rect x="265.3" y="251.3" width="43.5" height="0.7" fill="#ffffff" opacity="0.2"/>
<rect x="265.3" y="253.2" width="43.5" height="0.7" fill="#ffffff" opacity="0.3"/>
<rect x="265.3" y="254.7" width="43.5" height="1.0" fill="#ffffff" opacity="0.3"/>
<rect x="265.3" y="258.2" width="43.5" height="0.7" fill="#ffffff" opacity="0.2"/>
<rect x="265.3" y="261.4" width="43.5" height="1.0" fill="#ffffff" opacity="0.3"/>
<rect x="265.3" y="263.6" width="43.5" height="0.7" fill="#d6e4f4" opacity="0.2"/>
<rect x="265.3" y="266.1" width="43.5" height="0.7" fill="#ffffff" opacity="0.3"/>
<rect x="265.3" y="268.6" width="43.5" height="1.0" fill="#ffffff" opacity="0.3"/>
<rect x="265.3" y="270.4" width="43.5" height="0.5" fill="#ffffff" opacity="0.3"/>
<rect x="265.3" y="272.1" width="43.5" height="0.7" fill="#ffffff" opacity="0.42"/>
<rect x="265.3" y="274.0" width="43.5" height="0.5" fill="#ffffff" opacity="0.2"/>
<rect x="265.3" y="277.0" width="43.5" height="1.0" fill="#d6e4f4" opacity="0.2"/>
<rect x="265.3" y="278.8" width="43.5" height="0.5" fill="#d6e4f4" opacity="0.2"/>
<rect x="265.3" y="280.5" width="43.5" height="0.7" fill="#ffffff" opacity="0.3"/>
<rect x="265.3" y="282.0" width="43.5" height="0.5" fill="#ffffff" opacity="0.3"/>
<rect x="265.3" y="284.3" width="43.5" height="0.7" fill="#d6e4f4" opacity="0.2"/>
<rect x="265.3" y="285.8" width="43.5" height="0.5" fill="#ffffff" opacity="0.3"/>
<rect x="265.3" y="288.8" width="43.5" height="0.7" fill="#ffffff" opacity="0.2"/>
<rect x="265.3" y="290.7" width="43.5" height="0.5" fill="#ffffff" opacity="0.3"/>
<rect x="265.3" y="292.4" width="43.5" height="0.5" fill="#d6e4f4" opacity="0.3"/>
<rect x="265.3" y="293.7" width="43.5" height="0.7" fill="#d6e4f4" opacity="0.2"/>
<rect x="265.3" y="295.2" width="43.5" height="1.0" fill="#ffffff" opacity="0.3"/>
<rect x="265.3" y="298.7" width="43.5" height="0.7" fill="#ffffff" opacity="0.3"/>
<rect x="265.3" y="301.2" width="43.5" height="0.5" fill="#d6e4f4" opacity="0.3"/>
<rect x="265.3" y="303.5" width="43.5" height="0.7" fill="#ffffff" opacity="0.2"/>
<rect x="265.3" y="306.7" width="43.5" height="0.5" fill="#d6e4f4" opacity="0.42"/>
<rect x="265.3" y="308.0" width="43.5" height="0.5" fill="#d6e4f4" opacity="0.2"/>
<rect x="265.3" y="309.3" width="43.5" height="0.5" fill="#d6e4f4" opacity="0.2"/>
<rect x="265.3" y="310.6" width="43.5" height="0.7" fill="#ffffff" opacity="0.2"/>
<rect x="265.3" y="313.1" width="43.5" height="0.5" fill="#ffffff" opacity="0.3"/>
<rect x="265.3" y="316.1" width="43.5" height="0.7" fill="#ffffff" opacity="0.42"/>
<rect x="265.3" y="319.3" width="43.5" height="0.7" fill="#d6e4f4" opacity="0.42"/>
<rect x="265.3" y="322.5" width="43.5" height="0.5" fill="#ffffff" opacity="0.3"/>
<rect x="265.3" y="325.5" width="43.5" height="0.5" fill="#ffffff" opacity="0.42"/>
<rect x="265.3" y="327.8" width="43.5" height="1.0" fill="#ffffff" opacity="0.42"/>
<rect x="265.3" y="330.0" width="43.5" height="1.0" fill="#ffffff" opacity="0.42"/>
<rect x="265.3" y="332.8" width="43.5" height="0.5" fill="#ffffff" opacity="0.3"/>
<rect x="265.3" y="335.8" width="43.5" height="0.5" fill="#d6e4f4" opacity="0.3"/>
<rect x="265.3" y="338.8" width="43.5" height="0.7" fill="#ffffff" opacity="0.3"/>
<rect x="265.3" y="342.0" width="43.5" height="0.7" fill="#ffffff" opacity="0.2"/>
<rect x="265.3" y="343.9" width="43.5" height="1.0" fill="#ffffff" opacity="0.2"/>
<rect x="265.3" y="345.7" width="43.5" height="1.0" fill="#d6e4f4" opacity="0.42"/>
<rect x="265.3" y="347.5" width="43.5" height="0.7" fill="#d6e4f4" opacity="0.2"/>
<rect x="265.3" y="349.0" width="43.5" height="1.0" fill="#ffffff" opacity="0.2"/>
<rect x="265.3" y="352.5" width="43.5" height="1.0" fill="#ffffff" opacity="0.42"/>
<rect x="283.1" y="162.1" width="8" height="38.5" fill="url(#halo)" opacity="0.55"/>
<rect x="283.1" y="200.5" width="8" height="38.5" fill="url(#halo)" opacity="0.6"/>
<rect x="283.1" y="239.0" width="8" height="38.5" fill="url(#halo)" opacity="0.7"/>
<rect x="283.1" y="277.4" width="8" height="38.5" fill="url(#halo)" opacity="0.8"/>
<rect x="283.1" y="315.9" width="8" height="38.5" fill="url(#halo)" opacity="0.95"/>
<rect x="285.80" y="162.1" width="2.5" height="192.2" fill="url(#ai)"/>
<rect x="265.3" y="162.1" width="43.5" height="192.2" fill="none" stroke="#5a5a5a" stroke-width="0.9"/>
<rect x="239.4" y="82.5" width="2.4" height="9" fill="#1c4a86" opacity="0.7"/>
<rect x="285.8" y="82.5" width="2.1" height="7" fill="#2a64a8" opacity="0.6"/>
<rect x="222" y="85" width="13" height="9" fill="#fbf1f1" opacity="0.3"/>
<rect x="245" y="85" width="12" height="8" fill="#fbf1f1" opacity="0.3"/>
<rect x="270" y="85" width="15" height="9" fill="#fbf1f1" opacity="0.3"/>
<rect x="311.8" y="83" width="4.5" height="270.5" fill="url(#cb)" stroke="#777" stroke-width="0.5"/>
<line x1="316.3" y1="98.4" x2="318.6" y2="98.4" stroke="#333" stroke-width="0.7"/>
<text x="321.3" y="100.9" font-size="7.0" fill="#222" textLength="12.6" lengthAdjust="spacingAndGlyphs">0.12</text>
<line x1="316.3" y1="140.9" x2="318.6" y2="140.9" stroke="#333" stroke-width="0.7"/>
<text x="321.3" y="143.4" font-size="7.0" fill="#222" textLength="12.6" lengthAdjust="spacingAndGlyphs">0.10</text>
<line x1="316.3" y1="183.4" x2="318.6" y2="183.4" stroke="#333" stroke-width="0.7"/>
<text x="321.3" y="185.9" font-size="7.0" fill="#222" textLength="12.6" lengthAdjust="spacingAndGlyphs">0.08</text>
<line x1="316.3" y1="225.9" x2="318.6" y2="225.9" stroke="#333" stroke-width="0.7"/>
<text x="321.3" y="228.4" font-size="7.0" fill="#222" textLength="12.6" lengthAdjust="spacingAndGlyphs">0.06</text>
<line x1="316.3" y1="268.4" x2="318.6" y2="268.4" stroke="#333" stroke-width="0.7"/>
<text x="321.3" y="270.9" font-size="7.0" fill="#222" textLength="12.6" lengthAdjust="spacingAndGlyphs">0.04</text>
<line x1="316.3" y1="310.9" x2="318.6" y2="310.9" stroke="#333" stroke-width="0.7"/>
<text x="321.3" y="313.4" font-size="7.0" fill="#222" textLength="12.6" lengthAdjust="spacingAndGlyphs">0.02</text>
<line x1="316.3" y1="353.4" x2="318.6" y2="353.4" stroke="#333" stroke-width="0.7"/>
<text x="321.3" y="355.9" font-size="7.0" fill="#222" textLength="12.6" lengthAdjust="spacingAndGlyphs">0.00</text>
<text x="214.3" y="121.5" font-size="6.2" fill="#222" text-anchor="middle" textLength="53.7" lengthAdjust="spacingAndGlyphs" transform="rotate(-90 214.3 121.5)">Decreased in AML</text>
<text x="214.1" y="258.1" font-size="6.2" fill="#222" text-anchor="middle" textLength="52.2" lengthAdjust="spacingAndGlyphs" transform="rotate(-90 214.1 258.1)">Increased in AML</text>
<line x1="219.4" y1="354.3" x2="219.4" y2="356.5" stroke="#333" stroke-width="0.7"/>
<text x="221.0" y="363.4" font-size="5.7" fill="#2a2a2a" stroke="#2a2a2a" stroke-width="0.12" text-anchor="end" transform="rotate(-45 221.0 363.4)">-2.0</text>
<line x1="240.75" y1="354.3" x2="240.75" y2="356.5" stroke="#333" stroke-width="0.7"/>
<text x="242.3" y="363.4" font-size="5.7" fill="#2a2a2a" stroke="#2a2a2a" stroke-width="0.12" text-anchor="end" transform="rotate(-45 242.3 363.4)">center</text>
<line x1="262.09999999999997" y1="354.3" x2="262.09999999999997" y2="356.5" stroke="#333" stroke-width="0.7"/>
<text x="263.7" y="363.4" font-size="5.7" fill="#2a2a2a" stroke="#2a2a2a" stroke-width="0.12" text-anchor="end" transform="rotate(-45 263.7 363.4)">2.0Kb</text>
<text x="240.75" y="382.9" font-size="6.6" fill="#2a2a2a" text-anchor="middle" textLength="43.5" lengthAdjust="spacingAndGlyphs">Gene distance (bp)</text>
<line x1="265.90000000000003" y1="354.3" x2="265.90000000000003" y2="356.5" stroke="#333" stroke-width="0.7"/>
<text x="267.5" y="363.4" font-size="5.7" fill="#2a2a2a" stroke="#2a2a2a" stroke-width="0.12" text-anchor="end" transform="rotate(-45 267.5 363.4)">-2.0</text>
<line x1="287.05" y1="354.3" x2="287.05" y2="356.5" stroke="#333" stroke-width="0.7"/>
<text x="288.7" y="363.4" font-size="5.7" fill="#2a2a2a" stroke="#2a2a2a" stroke-width="0.12" text-anchor="end" transform="rotate(-45 288.7 363.4)">center</text>
<line x1="308.2" y1="354.3" x2="308.2" y2="356.5" stroke="#333" stroke-width="0.7"/>
<text x="309.8" y="363.4" font-size="5.7" fill="#2a2a2a" stroke="#2a2a2a" stroke-width="0.12" text-anchor="end" transform="rotate(-45 309.8 363.4)">2.0Kb</text>
<text x="287.05" y="382.9" font-size="6.6" fill="#2a2a2a" text-anchor="middle" textLength="43.5" lengthAdjust="spacingAndGlyphs">Gene distance (bp)</text>
<text x="349.3" y="15.6" font-size="12.6" fill="#111" font-weight="bold" stroke="#111" stroke-width="0.35">C</text>
<text x="390.2" y="19.1" font-size="8.3" fill="#222" textLength="110" lengthAdjust="spacingAndGlyphs">Binding Motifs open in AML</text>
<rect x="379.6" y="23.6" width="131.6" height="149.9" fill="none" stroke="#111" stroke-width="1.1"/>
<line x1="377.2" y1="166.9" x2="379.6" y2="166.9" stroke="#111" stroke-width="0.9"/>
<text x="373.8" y="169.3" font-size="6.9" fill="#222" text-anchor="end" textLength="3.3" lengthAdjust="spacingAndGlyphs">0</text>
<line x1="377.2" y1="137.35000000000002" x2="379.6" y2="137.35000000000002" stroke="#111" stroke-width="0.9"/>
<text x="373.8" y="139.75000000000003" font-size="6.9" fill="#222" text-anchor="end" textLength="6.6" lengthAdjust="spacingAndGlyphs">50</text>
<line x1="377.2" y1="107.80000000000001" x2="379.6" y2="107.80000000000001" stroke="#111" stroke-width="0.9"/>
<text x="373.8" y="110.20000000000002" font-size="6.9" fill="#222" text-anchor="end" textLength="9.9" lengthAdjust="spacingAndGlyphs">100</text>
<line x1="377.2" y1="78.25000000000001" x2="379.6" y2="78.25000000000001" stroke="#111" stroke-width="0.9"/>
<text x="373.8" y="80.65000000000002" font-size="6.9" fill="#222" text-anchor="end" textLength="9.9" lengthAdjust="spacingAndGlyphs">150</text>
<line x1="377.2" y1="48.70000000000002" x2="379.6" y2="48.70000000000002" stroke="#111" stroke-width="0.9"/>
<text x="373.8" y="51.100000000000016" font-size="6.9" fill="#222" text-anchor="end" textLength="9.9" lengthAdjust="spacingAndGlyphs">200</text>
<line x1="385.2" y1="173" x2="385.2" y2="175.5" stroke="#111" stroke-width="0.9"/>
<text x="385.2" y="185.5" font-size="6.9" fill="#222" text-anchor="middle" textLength="3.3" lengthAdjust="spacingAndGlyphs">0</text>
<line x1="418.91999999999996" y1="173" x2="418.91999999999996" y2="175.5" stroke="#111" stroke-width="0.9"/>
<text x="418.91999999999996" y="185.5" font-size="6.9" fill="#222" text-anchor="middle" textLength="9.9" lengthAdjust="spacingAndGlyphs">100</text>
<line x1="452.64" y1="173" x2="452.64" y2="175.5" stroke="#111" stroke-width="0.9"/>
<text x="452.64" y="185.5" font-size="6.9" fill="#222" text-anchor="middle" textLength="9.9" lengthAdjust="spacingAndGlyphs">200</text>
<line x1="486.36" y1="173" x2="486.36" y2="175.5" stroke="#111" stroke-width="0.9"/>
<text x="486.36" y="185.5" font-size="6.9" fill="#222" text-anchor="middle" textLength="9.9" lengthAdjust="spacingAndGlyphs">300</text>
<text x="445.85" y="198.0" font-size="8.8" fill="#222" text-anchor="middle" textLength="70.3" lengthAdjust="spacingAndGlyphs" stroke="#222" stroke-width="0.1">Rank of 356 mouse TFs</text>
<text x="357.8" y="99.5" font-size="6.8" fill="#222" text-anchor="middle" transform="rotate(-90 357.8 99.5)" textLength="48" lengthAdjust="spacingAndGlyphs">-Log10(<tspan font-style="italic">P</tspan>-value)</text>
<g fill="#bdbdbd"><circle cx="389.2" cy="71.3" r="1.5"/><circle cx="389.5" cy="75.5" r="1.5"/><circle cx="389.9" cy="80.6" r="1.5"/><circle cx="390.3" cy="95.6" r="1.5"/><circle cx="390.7" cy="103.1" r="1.5"/><circle cx="391.6" cy="108.3" r="1.5"/><circle cx="392.0" cy="110.8" r="1.5"/><circle cx="392.4" cy="113.4" r="1.5"/><circle cx="392.8" cy="116.0" r="1.5"/><circle cx="393.2" cy="118.6" r="1.5"/><circle cx="393.6" cy="121.2" r="1.5"/><circle cx="394.0" cy="123.8" r="1.5"/><circle cx="394.6" cy="128.3" r="1.5"/><circle cx="395.0" cy="131.0" r="1.5"/><circle cx="395.4" cy="133.7" r="1.5"/><circle cx="395.8" cy="136.4" r="1.5"/><circle cx="396.6" cy="141.6" r="1.5"/><circle cx="397.4" cy="147.6" r="1.5"/><circle cx="398.3" cy="151.6" r="1.5"/><circle cx="398.9" cy="153.6" r="1.5"/><circle cx="399.6" cy="155.4" r="1.5"/><circle cx="400.4" cy="157.0" r="1.5"/><circle cx="400.9" cy="157.7" r="1.5"/><circle cx="401.2" cy="158.2" r="1.5"/><circle cx="401.6" cy="158.7" r="1.5"/><circle cx="401.9" cy="159.2" r="1.5"/><circle cx="402.2" cy="159.5" r="1.5"/><circle cx="402.6" cy="159.7" r="1.5"/><circle cx="402.9" cy="160.0" r="1.5"/><circle cx="403.3" cy="160.3" r="1.5"/><circle cx="403.6" cy="160.5" r="1.5"/><circle cx="403.9" cy="160.8" r="1.5"/><circle cx="404.3" cy="161.0" r="1.5"/><circle cx="404.6" cy="161.3" r="1.5"/><circle cx="404.9" cy="161.6" r="1.5"/><circle cx="405.3" cy="161.7" r="1.5"/><circle cx="405.6" cy="161.9" r="1.5"/><circle cx="406.0" cy="162.0" r="1.5"/><circle cx="406.3" cy="162.2" r="1.5"/><circle cx="406.6" cy="162.4" r="1.5"/><circle cx="407.0" cy="162.5" r="1.5"/><circle cx="407.3" cy="162.7" r="1.5"/><circle cx="407.6" cy="162.8" r="1.5"/><circle cx="408.0" cy="163.0" r="1.5"/><circle cx="408.3" cy="163.1" r="1.5"/><circle cx="408.7" cy="163.3" r="1.5"/><circle cx="409.0" cy="163.4" r="1.5"/><circle cx="409.3" cy="163.6" r="1.5"/><circle cx="409.7" cy="163.7" r="1.5"/><circle cx="410.0" cy="163.9" r="1.5"/><circle cx="410.3" cy="164.0" r="1.5"/><circle cx="410.7" cy="164.1" r="1.5"/><circle cx="411.0" cy="164.2" r="1.5"/><circle cx="411.4" cy="164.3" r="1.5"/><circle cx="411.7" cy="164.4" r="1.5"/><circle cx="412.0" cy="164.5" r="1.5"/><circle cx="412.4" cy="164.6" r="1.5"/><circle cx="412.7" cy="164.7" r="1.5"/><circle cx="413.0" cy="164.8" r="1.5"/><circle cx="413.4" cy="164.8" r="1.5"/><circle cx="413.7" cy="164.9" r="1.5"/><circle cx="414.1" cy="165.0" r="1.5"/><circle cx="414.4" cy="165.1" r="1.5"/><circle cx="414.7" cy="165.2" r="1.5"/><circle cx="415.1" cy="165.3" r="1.5"/><circle cx="415.4" cy="165.4" r="1.5"/><circle cx="415.7" cy="165.4" r="1.5"/><circle cx="416.1" cy="165.5" r="1.5"/><circle cx="416.4" cy="165.6" r="1.5"/><circle cx="416.7" cy="165.6" r="1.5"/><circle cx="417.1" cy="165.7" r="1.5"/><circle cx="417.4" cy="165.7" r="1.5"/><circle cx="417.8" cy="165.8" r="1.5"/><circle cx="418.1" cy="165.9" r="1.5"/><circle cx="418.4" cy="165.9" r="1.5"/><circle cx="418.8" cy="166.0" r="1.5"/><circle cx="419.1" cy="166.0" r="1.5"/><circle cx="419.4" cy="166.1" r="1.5"/><circle cx="419.8" cy="166.2" r="1.5"/><circle cx="420.1" cy="166.2" r="1.5"/><circle cx="420.5" cy="166.2" r="1.5"/><circle cx="420.8" cy="166.3" r="1.5"/><circle cx="421.1" cy="166.3" r="1.5"/><circle cx="421.5" cy="166.3" r="1.5"/><circle cx="421.8" cy="166.4" r="1.5"/><circle cx="422.1" cy="166.4" r="1.5"/><circle cx="422.5" cy="166.4" r="1.5"/><circle cx="422.8" cy="166.5" r="1.5"/><circle cx="423.2" cy="166.5" r="1.5"/><circle cx="423.5" cy="166.5" r="1.5"/><circle cx="423.8" cy="166.6" r="1.5"/><circle cx="424.2" cy="166.6" r="1.5"/><circle cx="424.5" cy="166.7" r="1.5"/><circle cx="424.8" cy="166.7" r="1.5"/><circle cx="425.2" cy="166.7" r="1.5"/><circle cx="425.5" cy="166.7" r="1.5"/><circle cx="425.9" cy="166.8" r="1.5"/><circle cx="426.2" cy="166.8" r="1.5"/><circle cx="426.5" cy="166.8" r="1.5"/><circle cx="426.9" cy="166.8" r="1.5"/><circle cx="427.2" cy="166.8" r="1.5"/><circle cx="427.5" cy="166.9" r="1.5"/><circle cx="427.9" cy="166.9" r="1.5"/><circle cx="428.2" cy="166.9" r="1.5"/><circle cx="428.6" cy="166.9" r="1.5"/><circle cx="428.9" cy="166.9" r="1.5"/><circle cx="429.2" cy="167.0" r="1.5"/><circle cx="429.6" cy="167.0" r="1.5"/><circle cx="429.9" cy="167.0" r="1.5"/><circle cx="430.2" cy="167.0" r="1.5"/><circle cx="430.6" cy="167.0" r="1.5"/><circle cx="430.9" cy="167.0" r="1.5"/><circle cx="431.2" cy="167.0" r="1.5"/><circle cx="431.6" cy="167.0" r="1.5"/><circle cx="431.9" cy="167.0" r="1.5"/><circle cx="432.3" cy="167.0" r="1.5"/><circle cx="432.6" cy="167.0" r="1.5"/><circle cx="432.9" cy="167.0" r="1.5"/><circle cx="433.3" cy="167.0" r="1.5"/><circle cx="433.6" cy="167.0" r="1.5"/><circle cx="433.9" cy="167.0" r="1.5"/><circle cx="434.3" cy="167.0" r="1.5"/><circle cx="434.6" cy="167.0" r="1.5"/><circle cx="435.0" cy="167.0" r="1.5"/><circle cx="435.3" cy="167.0" r="1.5"/><circle cx="435.6" cy="167.0" r="1.5"/><circle cx="436.0" cy="167.0" r="1.5"/><circle cx="436.3" cy="167.0" r="1.5"/><circle cx="436.6" cy="167.0" r="1.5"/><circle cx="437.0" cy="167.0" r="1.5"/><circle cx="437.3" cy="167.0" r="1.5"/><circle cx="437.7" cy="167.0" r="1.5"/><circle cx="438.0" cy="167.0" r="1.5"/><circle cx="438.3" cy="167.0" r="1.5"/><circle cx="438.7" cy="167.0" r="1.5"/><circle cx="439.0" cy="167.0" r="1.5"/><circle cx="439.3" cy="167.0" r="1.5"/><circle cx="439.7" cy="167.0" r="1.5"/><circle cx="440.0" cy="167.0" r="1.5"/><circle cx="440.4" cy="167.0" r="1.5"/><circle cx="440.7" cy="167.0" r="1.5"/><circle cx="441.0" cy="167.0" r="1.5"/><circle cx="441.4" cy="167.0" r="1.5"/><circle cx="441.7" cy="167.0" r="1.5"/><circle cx="442.0" cy="167.0" r="1.5"/><circle cx="442.4" cy="167.0" r="1.5"/><circle cx="442.7" cy="167.0" r="1.5"/><circle cx="443.0" cy="167.0" r="1.5"/><circle cx="443.4" cy="167.0" r="1.5"/><circle cx="443.7" cy="167.0" r="1.5"/><circle cx="444.1" cy="167.0" r="1.5"/><circle cx="444.4" cy="167.0" r="1.5"/><circle cx="444.7" cy="167.0" r="1.5"/><circle cx="445.1" cy="167.0" r="1.5"/><circle cx="445.4" cy="167.0" r="1.5"/><circle cx="445.7" cy="167.0" r="1.5"/><circle cx="446.1" cy="167.0" r="1.5"/><circle cx="446.4" cy="167.0" r="1.5"/><circle cx="446.8" cy="167.0" r="1.5"/><circle cx="447.1" cy="167.0" r="1.5"/><circle cx="447.4" cy="167.0" r="1.5"/><circle cx="447.8" cy="167.0" r="1.5"/><circle cx="448.1" cy="167.0" r="1.5"/><circle cx="448.4" cy="167.0" r="1.5"/><circle cx="448.8" cy="167.0" r="1.5"/><circle cx="449.1" cy="167.0" r="1.5"/><circle cx="449.5" cy="167.0" r="1.5"/><circle cx="449.8" cy="167.0" r="1.5"/><circle cx="450.1" cy="167.0" r="1.5"/><circle cx="450.5" cy="167.0" r="1.5"/><circle cx="450.8" cy="167.0" r="1.5"/><circle cx="451.1" cy="167.0" r="1.5"/><circle cx="451.5" cy="167.0" r="1.5"/><circle cx="451.8" cy="167.0" r="1.5"/><circle cx="452.2" cy="167.0" r="1.5"/><circle cx="452.5" cy="167.0" r="1.5"/><circle cx="452.8" cy="167.0" r="1.5"/><circle cx="453.2" cy="167.0" r="1.5"/><circle cx="453.5" cy="167.0" r="1.5"/><circle cx="453.8" cy="167.0" r="1.5"/><circle cx="454.2" cy="167.0" r="1.5"/><circle cx="454.5" cy="167.0" r="1.5"/><circle cx="454.9" cy="167.0" r="1.5"/><circle cx="455.2" cy="167.0" r="1.5"/><circle cx="455.5" cy="167.0" r="1.5"/><circle cx="455.9" cy="167.0" r="1.5"/><circle cx="456.2" cy="167.0" r="1.5"/><circle cx="456.5" cy="167.0" r="1.5"/><circle cx="456.9" cy="167.0" r="1.5"/><circle cx="457.2" cy="167.0" r="1.5"/><circle cx="457.5" cy="167.0" r="1.5"/><circle cx="457.9" cy="167.0" r="1.5"/><circle cx="458.2" cy="167.0" r="1.5"/><circle cx="458.6" cy="167.0" r="1.5"/><circle cx="458.9" cy="167.0" r="1.5"/><circle cx="459.2" cy="167.0" r="1.5"/><circle cx="459.6" cy="167.0" r="1.5"/><circle cx="459.9" cy="167.0" r="1.5"/><circle cx="460.2" cy="167.0" r="1.5"/><circle cx="460.6" cy="167.0" r="1.5"/><circle cx="460.9" cy="167.0" r="1.5"/><circle cx="461.3" cy="167.0" r="1.5"/><circle cx="461.6" cy="167.0" r="1.5"/><circle cx="461.9" cy="167.0" r="1.5"/><circle cx="462.3" cy="167.0" r="1.5"/><circle cx="462.6" cy="167.0" r="1.5"/><circle cx="462.9" cy="167.0" r="1.5"/><circle cx="463.3" cy="167.0" r="1.5"/><circle cx="463.6" cy="167.0" r="1.5"/><circle cx="464.0" cy="167.0" r="1.5"/><circle cx="464.3" cy="167.0" r="1.5"/><circle cx="464.6" cy="167.0" r="1.5"/><circle cx="465.0" cy="167.0" r="1.5"/><circle cx="465.3" cy="167.0" r="1.5"/><circle cx="465.6" cy="167.0" r="1.5"/><circle cx="466.0" cy="167.0" r="1.5"/><circle cx="466.3" cy="167.0" r="1.5"/><circle cx="466.7" cy="167.0" r="1.5"/><circle cx="467.0" cy="167.0" r="1.5"/><circle cx="467.3" cy="167.0" r="1.5"/><circle cx="467.7" cy="167.0" r="1.5"/><circle cx="468.0" cy="167.0" r="1.5"/><circle cx="468.3" cy="167.0" r="1.5"/><circle cx="468.7" cy="167.0" r="1.5"/><circle cx="469.0" cy="167.0" r="1.5"/><circle cx="469.4" cy="167.0" r="1.5"/><circle cx="469.7" cy="167.0" r="1.5"/><circle cx="470.0" cy="167.0" r="1.5"/><circle cx="470.4" cy="167.0" r="1.5"/><circle cx="470.7" cy="167.0" r="1.5"/><circle cx="471.0" cy="167.0" r="1.5"/><circle cx="471.4" cy="167.0" r="1.5"/><circle cx="471.7" cy="167.0" r="1.5"/><circle cx="472.0" cy="167.0" r="1.5"/><circle cx="472.4" cy="167.0" r="1.5"/><circle cx="472.7" cy="167.0" r="1.5"/><circle cx="473.1" cy="167.0" r="1.5"/><circle cx="473.4" cy="167.0" r="1.5"/><circle cx="473.7" cy="167.0" r="1.5"/><circle cx="474.1" cy="167.0" r="1.5"/><circle cx="474.4" cy="167.0" r="1.5"/><circle cx="474.7" cy="167.0" r="1.5"/><circle cx="475.1" cy="167.0" r="1.5"/><circle cx="475.4" cy="167.0" r="1.5"/><circle cx="475.8" cy="167.0" r="1.5"/><circle cx="476.1" cy="167.0" r="1.5"/><circle cx="476.4" cy="167.0" r="1.5"/><circle cx="476.8" cy="167.0" r="1.5"/><circle cx="477.1" cy="167.0" r="1.5"/><circle cx="477.4" cy="167.0" r="1.5"/><circle cx="477.8" cy="167.0" r="1.5"/><circle cx="478.1" cy="167.0" r="1.5"/><circle cx="478.5" cy="167.0" r="1.5"/><circle cx="478.8" cy="167.0" r="1.5"/><circle cx="479.1" cy="167.0" r="1.5"/><circle cx="479.5" cy="167.0" r="1.5"/><circle cx="479.8" cy="167.0" r="1.5"/><circle cx="480.1" cy="167.0" r="1.5"/><circle cx="480.5" cy="167.0" r="1.5"/><circle cx="480.8" cy="167.0" r="1.5"/><circle cx="481.2" cy="167.0" r="1.5"/><circle cx="481.5" cy="167.0" r="1.5"/><circle cx="481.8" cy="167.0" r="1.5"/><circle cx="482.2" cy="167.0" r="1.5"/><circle cx="482.5" cy="167.0" r="1.5"/><circle cx="482.8" cy="167.0" r="1.5"/><circle cx="483.2" cy="167.0" r="1.5"/><circle cx="483.5" cy="167.0" r="1.5"/><circle cx="483.9" cy="167.0" r="1.5"/><circle cx="484.2" cy="167.0" r="1.5"/><circle cx="484.5" cy="167.0" r="1.5"/><circle cx="484.9" cy="167.0" r="1.5"/><circle cx="485.2" cy="167.0" r="1.5"/><circle cx="485.5" cy="167.0" r="1.5"/><circle cx="485.9" cy="167.0" r="1.5"/><circle cx="486.2" cy="167.0" r="1.5"/><circle cx="486.5" cy="167.0" r="1.5"/><circle cx="486.9" cy="167.0" r="1.5"/><circle cx="487.2" cy="167.0" r="1.5"/><circle cx="487.6" cy="167.0" r="1.5"/><circle cx="487.9" cy="167.0" r="1.5"/><circle cx="488.2" cy="167.0" r="1.5"/><circle cx="488.6" cy="167.0" r="1.5"/><circle cx="488.9" cy="167.0" r="1.5"/><circle cx="489.2" cy="167.0" r="1.5"/><circle cx="489.6" cy="167.0" r="1.5"/><circle cx="489.9" cy="167.0" r="1.5"/><circle cx="490.3" cy="167.0" r="1.5"/><circle cx="490.6" cy="167.0" r="1.5"/><circle cx="490.9" cy="167.0" r="1.5"/><circle cx="491.3" cy="167.0" r="1.5"/><circle cx="491.6" cy="167.0" r="1.5"/><circle cx="491.9" cy="167.0" r="1.5"/><circle cx="492.3" cy="167.0" r="1.5"/><circle cx="492.6" cy="167.0" r="1.5"/><circle cx="493.0" cy="167.0" r="1.5"/><circle cx="493.3" cy="167.0" r="1.5"/><circle cx="493.6" cy="167.0" r="1.5"/><circle cx="494.0" cy="167.0" r="1.5"/><circle cx="494.3" cy="167.0" r="1.5"/><circle cx="494.6" cy="167.0" r="1.5"/><circle cx="495.0" cy="167.0" r="1.5"/><circle cx="495.3" cy="167.0" r="1.5"/><circle cx="495.7" cy="167.0" r="1.5"/><circle cx="496.0" cy="167.0" r="1.5"/><circle cx="496.3" cy="167.0" r="1.5"/><circle cx="496.7" cy="167.0" r="1.5"/><circle cx="497.0" cy="167.0" r="1.5"/><circle cx="497.3" cy="167.0" r="1.5"/><circle cx="497.7" cy="167.0" r="1.5"/><circle cx="498.0" cy="167.0" r="1.5"/><circle cx="498.4" cy="167.0" r="1.5"/><circle cx="498.7" cy="167.0" r="1.5"/><circle cx="499.0" cy="167.0" r="1.5"/><circle cx="499.4" cy="167.0" r="1.5"/><circle cx="499.7" cy="167.0" r="1.5"/><circle cx="500.0" cy="167.0" r="1.5"/><circle cx="500.4" cy="167.0" r="1.5"/><circle cx="500.7" cy="167.0" r="1.5"/><circle cx="501.0" cy="167.0" r="1.5"/><circle cx="501.4" cy="167.0" r="1.5"/><circle cx="501.7" cy="167.0" r="1.5"/><circle cx="502.1" cy="167.0" r="1.5"/><circle cx="502.4" cy="167.0" r="1.5"/><circle cx="502.7" cy="167.0" r="1.5"/><circle cx="503.1" cy="167.0" r="1.5"/><circle cx="503.4" cy="167.0" r="1.5"/><circle cx="503.7" cy="167.0" r="1.5"/><circle cx="504.1" cy="167.0" r="1.5"/><circle cx="504.4" cy="167.0" r="1.5"/><circle cx="504.8" cy="167.0" r="1.5"/><circle cx="505.1" cy="167.0" r="1.5"/><circle cx="505.4" cy="167.0" r="1.5"/></g>
<circle cx="385.6" cy="30.5" r="1.5" fill="#b5213a"/>
<circle cx="385.5" cy="45.5" r="1.5" fill="#b5213a"/>
<circle cx="386.1" cy="47.2" r="1.5" fill="#a0203e"/>
<circle cx="386.8" cy="48.9" r="1.5" fill="#1d3a72"/>
<circle cx="387.2" cy="52.8" r="1.5" fill="#1a3668"/>
<circle cx="387.2" cy="57" r="1.5" fill="#0f3060"/>
<circle cx="388" cy="64.5" r="1.5" fill="#0f4a4a"/>
<circle cx="388.9" cy="67.9" r="1.5" fill="#2f9a58"/>
<text x="388.9" y="32.2" font-size="4.6" fill="#333" textLength="8.5" lengthAdjust="spacingAndGlyphs">SPIB</text>
<text x="390.2" y="44.3" font-size="4.6" fill="#333" textLength="7.5" lengthAdjust="spacingAndGlyphs">IRF8</text>
<text x="390.5" y="48.4" font-size="4.6" fill="#333" textLength="7.2" lengthAdjust="spacingAndGlyphs">IRF1</text>
<text x="390.5" y="52.6" font-size="4.6" fill="#333" textLength="6" lengthAdjust="spacingAndGlyphs">EHF</text>
<text x="390.5" y="57.4" font-size="4.6" fill="#333" textLength="7.8" lengthAdjust="spacingAndGlyphs">ELF3</text>
<text x="390.5" y="62.8" font-size="4.6" fill="#333" textLength="7.2" lengthAdjust="spacingAndGlyphs">IRF4</text>
<text x="392.3" y="68.4" font-size="4.6" fill="#333" textLength="12.2" lengthAdjust="spacingAndGlyphs">CEBPB</text>
<text x="350.0" y="225.5" font-size="12.2" fill="#111" font-weight="bold" stroke="#111" stroke-width="0.35">D</text>
<text x="386.4" y="226.6" font-size="8.3" fill="#222" textLength="108" lengthAdjust="spacingAndGlyphs">Binding Motifs closed in AML</text>
<rect x="376.2" y="231.3" width="135.2" height="149.9" fill="none" stroke="#111" stroke-width="1.1"/>
<line x1="373.6" y1="374.6" x2="376" y2="374.6" stroke="#111" stroke-width="0.9"/>
<text x="370.6" y="377.0" font-size="6.9" fill="#222" text-anchor="end" textLength="3.3" lengthAdjust="spacingAndGlyphs">0</text>
<line x1="373.6" y1="325.85" x2="376" y2="325.85" stroke="#111" stroke-width="0.9"/>
<text x="370.6" y="328.25" font-size="6.9" fill="#222" text-anchor="end" textLength="3.3" lengthAdjust="spacingAndGlyphs">5</text>
<line x1="373.6" y1="277.1" x2="376" y2="277.1" stroke="#111" stroke-width="0.9"/>
<text x="370.6" y="279.5" font-size="6.9" fill="#222" text-anchor="end" textLength="6.6" lengthAdjust="spacingAndGlyphs">10</text>
<line x1="381.5" y1="381.2" x2="381.5" y2="383.7" stroke="#111" stroke-width="0.9"/>
<text x="381.5" y="393.4" font-size="6.9" fill="#222" text-anchor="middle" textLength="3.3" lengthAdjust="spacingAndGlyphs">0</text>
<line x1="416.1" y1="381.2" x2="416.1" y2="383.7" stroke="#111" stroke-width="0.9"/>
<text x="416.1" y="393.4" font-size="6.9" fill="#222" text-anchor="middle" textLength="9.9" lengthAdjust="spacingAndGlyphs">100</text>
<line x1="450.7" y1="381.2" x2="450.7" y2="383.7" stroke="#111" stroke-width="0.9"/>
<text x="450.7" y="393.4" font-size="6.9" fill="#222" text-anchor="middle" textLength="9.9" lengthAdjust="spacingAndGlyphs">200</text>
<line x1="485.3" y1="381.2" x2="485.3" y2="383.7" stroke="#111" stroke-width="0.9"/>
<text x="485.3" y="393.4" font-size="6.9" fill="#222" text-anchor="middle" textLength="9.9" lengthAdjust="spacingAndGlyphs">300</text>
<text x="443.8" y="406.0" font-size="8.8" fill="#222" text-anchor="middle" textLength="69.4" lengthAdjust="spacingAndGlyphs" stroke="#222" stroke-width="0.1">Rank of 356 mouse TFs</text>
<text x="357.8" y="305.2" font-size="6.8" fill="#222" text-anchor="middle" transform="rotate(-90 357.8 305.2)" textLength="51" lengthAdjust="spacingAndGlyphs">-Log10(<tspan font-style="italic">P</tspan>-value)</text>
<g fill="#bdbdbd"><circle cx="385.8" cy="325.9" r="1.5"/><circle cx="386.7" cy="335.6" r="1.5"/><circle cx="388.1" cy="345.4" r="1.5"/><circle cx="388.4" cy="345.4" r="1.5"/><circle cx="389.1" cy="355.1" r="1.5"/><circle cx="389.5" cy="355.1" r="1.5"/><circle cx="389.8" cy="355.1" r="1.5"/><circle cx="390.1" cy="355.1" r="1.5"/><circle cx="390.5" cy="355.1" r="1.5"/><circle cx="390.8" cy="355.1" r="1.5"/><circle cx="391.2" cy="355.1" r="1.5"/><circle cx="391.5" cy="355.1" r="1.5"/><circle cx="391.9" cy="355.1" r="1.5"/><circle cx="392.2" cy="355.1" r="1.5"/><circle cx="391.0" cy="364.9" r="1.5"/><circle cx="391.4" cy="364.9" r="1.5"/><circle cx="391.7" cy="364.9" r="1.5"/><circle cx="392.1" cy="364.9" r="1.5"/><circle cx="392.4" cy="364.9" r="1.5"/><circle cx="392.7" cy="364.9" r="1.5"/><circle cx="393.1" cy="364.9" r="1.5"/><circle cx="393.4" cy="364.9" r="1.5"/><circle cx="393.8" cy="364.9" r="1.5"/><circle cx="394.1" cy="364.9" r="1.5"/><circle cx="394.5" cy="364.9" r="1.5"/><circle cx="394.8" cy="364.9" r="1.5"/><circle cx="395.2" cy="364.9" r="1.5"/><circle cx="393.8" cy="374.6" r="1.5"/><circle cx="394.1" cy="374.6" r="1.5"/><circle cx="394.5" cy="374.6" r="1.5"/><circle cx="394.8" cy="374.6" r="1.5"/><circle cx="395.2" cy="374.6" r="1.5"/><circle cx="395.5" cy="374.6" r="1.5"/><circle cx="395.9" cy="374.6" r="1.5"/><circle cx="396.2" cy="374.6" r="1.5"/><circle cx="396.6" cy="374.6" r="1.5"/><circle cx="396.9" cy="374.6" r="1.5"/><circle cx="397.2" cy="374.6" r="1.5"/><circle cx="397.6" cy="374.6" r="1.5"/><circle cx="397.9" cy="374.6" r="1.5"/><circle cx="398.3" cy="374.6" r="1.5"/><circle cx="398.6" cy="374.6" r="1.5"/><circle cx="399.0" cy="374.6" r="1.5"/><circle cx="399.3" cy="374.6" r="1.5"/><circle cx="399.7" cy="374.6" r="1.5"/><circle cx="400.0" cy="374.6" r="1.5"/><circle cx="400.4" cy="374.6" r="1.5"/><circle cx="400.7" cy="374.6" r="1.5"/><circle cx="401.0" cy="374.6" r="1.5"/><circle cx="401.4" cy="374.6" r="1.5"/><circle cx="401.7" cy="374.6" r="1.5"/><circle cx="402.1" cy="374.6" r="1.5"/><circle cx="402.4" cy="374.6" r="1.5"/><circle cx="402.8" cy="374.6" r="1.5"/><circle cx="403.1" cy="374.6" r="1.5"/><circle cx="403.5" cy="374.6" r="1.5"/><circle cx="403.8" cy="374.6" r="1.5"/><circle cx="404.2" cy="374.6" r="1.5"/><circle cx="404.5" cy="374.6" r="1.5"/><circle cx="404.9" cy="374.6" r="1.5"/><circle cx="405.2" cy="374.6" r="1.5"/><circle cx="405.5" cy="374.6" r="1.5"/><circle cx="405.9" cy="374.6" r="1.5"/><circle cx="406.2" cy="374.6" r="1.5"/><circle cx="406.6" cy="374.6" r="1.5"/><circle cx="406.9" cy="374.6" r="1.5"/><circle cx="407.3" cy="374.6" r="1.5"/><circle cx="407.6" cy="374.6" r="1.5"/><circle cx="408.0" cy="374.6" r="1.5"/><circle cx="408.3" cy="374.6" r="1.5"/><circle cx="408.7" cy="374.6" r="1.5"/><circle cx="409.0" cy="374.6" r="1.5"/><circle cx="409.4" cy="374.6" r="1.5"/><circle cx="409.7" cy="374.6" r="1.5"/><circle cx="410.0" cy="374.6" r="1.5"/><circle cx="410.4" cy="374.6" r="1.5"/><circle cx="410.7" cy="374.6" r="1.5"/><circle cx="411.1" cy="374.6" r="1.5"/><circle cx="411.4" cy="374.6" r="1.5"/><circle cx="411.8" cy="374.6" r="1.5"/><circle cx="412.1" cy="374.6" r="1.5"/><circle cx="412.5" cy="374.6" r="1.5"/><circle cx="412.8" cy="374.6" r="1.5"/><circle cx="413.2" cy="374.6" r="1.5"/><circle cx="413.5" cy="374.6" r="1.5"/><circle cx="413.9" cy="374.6" r="1.5"/><circle cx="414.2" cy="374.6" r="1.5"/><circle cx="414.5" cy="374.6" r="1.5"/><circle cx="414.9" cy="374.6" r="1.5"/><circle cx="415.2" cy="374.6" r="1.5"/><circle cx="415.6" cy="374.6" r="1.5"/><circle cx="415.9" cy="374.6" r="1.5"/><circle cx="416.3" cy="374.6" r="1.5"/><circle cx="416.6" cy="374.6" r="1.5"/><circle cx="417.0" cy="374.6" r="1.5"/><circle cx="417.3" cy="374.6" r="1.5"/><circle cx="417.7" cy="374.6" r="1.5"/><circle cx="418.0" cy="374.6" r="1.5"/><circle cx="418.3" cy="374.6" r="1.5"/><circle cx="418.7" cy="374.6" r="1.5"/><circle cx="419.0" cy="374.6" r="1.5"/><circle cx="419.4" cy="374.6" r="1.5"/><circle cx="419.7" cy="374.6" r="1.5"/><circle cx="420.1" cy="374.6" r="1.5"/><circle cx="420.4" cy="374.6" r="1.5"/><circle cx="420.8" cy="374.6" r="1.5"/><circle cx="421.1" cy="374.6" r="1.5"/><circle cx="421.5" cy="374.6" r="1.5"/><circle cx="421.8" cy="374.6" r="1.5"/><circle cx="422.2" cy="374.6" r="1.5"/><circle cx="422.5" cy="374.6" r="1.5"/><circle cx="422.8" cy="374.6" r="1.5"/><circle cx="423.2" cy="374.6" r="1.5"/><circle cx="423.5" cy="374.6" r="1.5"/><circle cx="423.9" cy="374.6" r="1.5"/><circle cx="424.2" cy="374.6" r="1.5"/><circle cx="424.6" cy="374.6" r="1.5"/><circle cx="424.9" cy="374.6" r="1.5"/><circle cx="425.3" cy="374.6" r="1.5"/><circle cx="425.6" cy="374.6" r="1.5"/><circle cx="426.0" cy="374.6" r="1.5"/><circle cx="426.3" cy="374.6" r="1.5"/><circle cx="426.7" cy="374.6" r="1.5"/><circle cx="427.0" cy="374.6" r="1.5"/><circle cx="427.3" cy="374.6" r="1.5"/><circle cx="427.7" cy="374.6" r="1.5"/><circle cx="428.0" cy="374.6" r="1.5"/><circle cx="428.4" cy="374.6" r="1.5"/><circle cx="428.7" cy="374.6" r="1.5"/><circle cx="429.1" cy="374.6" r="1.5"/><circle cx="429.4" cy="374.6" r="1.5"/><circle cx="429.8" cy="374.6" r="1.5"/><circle cx="430.1" cy="374.6" r="1.5"/><circle cx="430.5" cy="374.6" r="1.5"/><circle cx="430.8" cy="374.6" r="1.5"/><circle cx="431.2" cy="374.6" r="1.5"/><circle cx="431.5" cy="374.6" r="1.5"/><circle cx="431.8" cy="374.6" r="1.5"/><circle cx="432.2" cy="374.6" r="1.5"/><circle cx="432.5" cy="374.6" r="1.5"/><circle cx="432.9" cy="374.6" r="1.5"/><circle cx="433.2" cy="374.6" r="1.5"/><circle cx="433.6" cy="374.6" r="1.5"/><circle cx="433.9" cy="374.6" r="1.5"/><circle cx="434.3" cy="374.6" r="1.5"/><circle cx="434.6" cy="374.6" r="1.5"/><circle cx="435.0" cy="374.6" r="1.5"/><circle cx="435.3" cy="374.6" r="1.5"/><circle cx="435.6" cy="374.6" r="1.5"/><circle cx="436.0" cy="374.6" r="1.5"/><circle cx="436.3" cy="374.6" r="1.5"/><circle cx="436.7" cy="374.6" r="1.5"/><circle cx="437.0" cy="374.6" r="1.5"/><circle cx="437.4" cy="374.6" r="1.5"/><circle cx="437.7" cy="374.6" r="1.5"/><circle cx="438.1" cy="374.6" r="1.5"/><circle cx="438.4" cy="374.6" r="1.5"/><circle cx="438.8" cy="374.6" r="1.5"/><circle cx="439.1" cy="374.6" r="1.5"/><circle cx="439.5" cy="374.6" r="1.5"/><circle cx="439.8" cy="374.6" r="1.5"/><circle cx="440.1" cy="374.6" r="1.5"/><circle cx="440.5" cy="374.6" r="1.5"/><circle cx="440.8" cy="374.6" r="1.5"/><circle cx="441.2" cy="374.6" r="1.5"/><circle cx="441.5" cy="374.6" r="1.5"/><circle cx="441.9" cy="374.6" r="1.5"/><circle cx="442.2" cy="374.6" r="1.5"/><circle cx="442.6" cy="374.6" r="1.5"/><circle cx="442.9" cy="374.6" r="1.5"/><circle cx="443.3" cy="374.6" r="1.5"/><circle cx="443.6" cy="374.6" r="1.5"/><circle cx="444.0" cy="374.6" r="1.5"/><circle cx="444.3" cy="374.6" r="1.5"/><circle cx="444.6" cy="374.6" r="1.5"/><circle cx="445.0" cy="374.6" r="1.5"/><circle cx="445.3" cy="374.6" r="1.5"/><circle cx="445.7" cy="374.6" r="1.5"/><circle cx="446.0" cy="374.6" r="1.5"/><circle cx="446.4" cy="374.6" r="1.5"/><circle cx="446.7" cy="374.6" r="1.5"/><circle cx="447.1" cy="374.6" r="1.5"/><circle cx="447.4" cy="374.6" r="1.5"/><circle cx="447.8" cy="374.6" r="1.5"/><circle cx="448.1" cy="374.6" r="1.5"/><circle cx="448.5" cy="374.6" r="1.5"/><circle cx="448.8" cy="374.6" r="1.5"/><circle cx="449.1" cy="374.6" r="1.5"/><circle cx="449.5" cy="374.6" r="1.5"/><circle cx="449.8" cy="374.6" r="1.5"/><circle cx="450.2" cy="374.6" r="1.5"/><circle cx="450.5" cy="374.6" r="1.5"/><circle cx="450.9" cy="374.6" r="1.5"/><circle cx="451.2" cy="374.6" r="1.5"/><circle cx="451.6" cy="374.6" r="1.5"/><circle cx="451.9" cy="374.6" r="1.5"/><circle cx="452.3" cy="374.6" r="1.5"/><circle cx="452.6" cy="374.6" r="1.5"/><circle cx="452.9" cy="374.6" r="1.5"/><circle cx="453.3" cy="374.6" r="1.5"/><circle cx="453.6" cy="374.6" r="1.5"/><circle cx="454.0" cy="374.6" r="1.5"/><circle cx="454.3" cy="374.6" r="1.5"/><circle cx="454.7" cy="374.6" r="1.5"/><circle cx="455.0" cy="374.6" r="1.5"/><circle cx="455.4" cy="374.6" r="1.5"/><circle cx="455.7" cy="374.6" r="1.5"/><circle cx="456.1" cy="374.6" r="1.5"/><circle cx="456.4" cy="374.6" r="1.5"/><circle cx="456.8" cy="374.6" r="1.5"/><circle cx="457.1" cy="374.6" r="1.5"/><circle cx="457.4" cy="374.6" r="1.5"/><circle cx="457.8" cy="374.6" r="1.5"/><circle cx="458.1" cy="374.6" r="1.5"/><circle cx="458.5" cy="374.6" r="1.5"/><circle cx="458.8" cy="374.6" r="1.5"/><circle cx="459.2" cy="374.6" r="1.5"/><circle cx="459.5" cy="374.6" r="1.5"/><circle cx="459.9" cy="374.6" r="1.5"/><circle cx="460.2" cy="374.6" r="1.5"/><circle cx="460.6" cy="374.6" r="1.5"/><circle cx="460.9" cy="374.6" r="1.5"/><circle cx="461.3" cy="374.6" r="1.5"/><circle cx="461.6" cy="374.6" r="1.5"/><circle cx="461.9" cy="374.6" r="1.5"/><circle cx="462.3" cy="374.6" r="1.5"/><circle cx="462.6" cy="374.6" r="1.5"/><circle cx="463.0" cy="374.6" r="1.5"/><circle cx="463.3" cy="374.6" r="1.5"/><circle cx="463.7" cy="374.6" r="1.5"/><circle cx="464.0" cy="374.6" r="1.5"/><circle cx="464.4" cy="374.6" r="1.5"/><circle cx="464.7" cy="374.6" r="1.5"/><circle cx="465.1" cy="374.6" r="1.5"/><circle cx="465.4" cy="374.6" r="1.5"/><circle cx="465.8" cy="374.6" r="1.5"/><circle cx="466.1" cy="374.6" r="1.5"/><circle cx="466.4" cy="374.6" r="1.5"/><circle cx="466.8" cy="374.6" r="1.5"/><circle cx="467.1" cy="374.6" r="1.5"/><circle cx="467.5" cy="374.6" r="1.5"/><circle cx="467.8" cy="374.6" r="1.5"/><circle cx="468.2" cy="374.6" r="1.5"/><circle cx="468.5" cy="374.6" r="1.5"/><circle cx="468.9" cy="374.6" r="1.5"/><circle cx="469.2" cy="374.6" r="1.5"/><circle cx="469.6" cy="374.6" r="1.5"/><circle cx="469.9" cy="374.6" r="1.5"/><circle cx="470.2" cy="374.6" r="1.5"/><circle cx="470.6" cy="374.6" r="1.5"/><circle cx="470.9" cy="374.6" r="1.5"/><circle cx="471.3" cy="374.6" r="1.5"/><circle cx="471.6" cy="374.6" r="1.5"/><circle cx="472.0" cy="374.6" r="1.5"/><circle cx="472.3" cy="374.6" r="1.5"/><circle cx="472.7" cy="374.6" r="1.5"/><circle cx="473.0" cy="374.6" r="1.5"/><circle cx="473.4" cy="374.6" r="1.5"/><circle cx="473.7" cy="374.6" r="1.5"/><circle cx="474.1" cy="374.6" r="1.5"/><circle cx="474.4" cy="374.6" r="1.5"/><circle cx="474.7" cy="374.6" r="1.5"/><circle cx="475.1" cy="374.6" r="1.5"/><circle cx="475.4" cy="374.6" r="1.5"/><circle cx="475.8" cy="374.6" r="1.5"/><circle cx="476.1" cy="374.6" r="1.5"/><circle cx="476.5" cy="374.6" r="1.5"/><circle cx="476.8" cy="374.6" r="1.5"/><circle cx="477.2" cy="374.6" r="1.5"/><circle cx="477.5" cy="374.6" r="1.5"/><circle cx="477.9" cy="374.6" r="1.5"/><circle cx="478.2" cy="374.6" r="1.5"/><circle cx="478.6" cy="374.6" r="1.5"/><circle cx="478.9" cy="374.6" r="1.5"/><circle cx="479.2" cy="374.6" r="1.5"/><circle cx="479.6" cy="374.6" r="1.5"/><circle cx="479.9" cy="374.6" r="1.5"/><circle cx="480.3" cy="374.6" r="1.5"/><circle cx="480.6" cy="374.6" r="1.5"/><circle cx="481.0" cy="374.6" r="1.5"/><circle cx="481.3" cy="374.6" r="1.5"/><circle cx="481.7" cy="374.6" r="1.5"/><circle cx="482.0" cy="374.6" r="1.5"/><circle cx="482.4" cy="374.6" r="1.5"/><circle cx="482.7" cy="374.6" r="1.5"/><circle cx="483.1" cy="374.6" r="1.5"/><circle cx="483.4" cy="374.6" r="1.5"/><circle cx="483.7" cy="374.6" r="1.5"/><circle cx="484.1" cy="374.6" r="1.5"/><circle cx="484.4" cy="374.6" r="1.5"/><circle cx="484.8" cy="374.6" r="1.5"/><circle cx="485.1" cy="374.6" r="1.5"/><circle cx="485.5" cy="374.6" r="1.5"/><circle cx="485.8" cy="374.6" r="1.5"/><circle cx="486.2" cy="374.6" r="1.5"/><circle cx="486.5" cy="374.6" r="1.5"/><circle cx="486.9" cy="374.6" r="1.5"/><circle cx="487.2" cy="374.6" r="1.5"/><circle cx="487.5" cy="374.6" r="1.5"/><circle cx="487.9" cy="374.6" r="1.5"/><circle cx="488.2" cy="374.6" r="1.5"/><circle cx="488.6" cy="374.6" r="1.5"/><circle cx="488.9" cy="374.6" r="1.5"/><circle cx="489.3" cy="374.6" r="1.5"/><circle cx="489.6" cy="374.6" r="1.5"/><circle cx="490.0" cy="374.6" r="1.5"/><circle cx="490.3" cy="374.6" r="1.5"/><circle cx="490.7" cy="374.6" r="1.5"/><circle cx="491.0" cy="374.6" r="1.5"/><circle cx="491.4" cy="374.6" r="1.5"/><circle cx="491.7" cy="374.6" r="1.5"/><circle cx="492.0" cy="374.6" r="1.5"/><circle cx="492.4" cy="374.6" r="1.5"/><circle cx="492.7" cy="374.6" r="1.5"/><circle cx="493.1" cy="374.6" r="1.5"/><circle cx="493.4" cy="374.6" r="1.5"/><circle cx="493.8" cy="374.6" r="1.5"/><circle cx="494.1" cy="374.6" r="1.5"/><circle cx="494.5" cy="374.6" r="1.5"/><circle cx="494.8" cy="374.6" r="1.5"/><circle cx="495.2" cy="374.6" r="1.5"/><circle cx="495.5" cy="374.6" r="1.5"/><circle cx="495.9" cy="374.6" r="1.5"/><circle cx="496.2" cy="374.6" r="1.5"/><circle cx="496.5" cy="374.6" r="1.5"/><circle cx="496.9" cy="374.6" r="1.5"/><circle cx="497.2" cy="374.6" r="1.5"/><circle cx="497.6" cy="374.6" r="1.5"/><circle cx="497.9" cy="374.6" r="1.5"/><circle cx="498.3" cy="374.6" r="1.5"/><circle cx="498.6" cy="374.6" r="1.5"/><circle cx="499.0" cy="374.6" r="1.5"/><circle cx="499.3" cy="374.6" r="1.5"/><circle cx="499.7" cy="374.6" r="1.5"/><circle cx="500.0" cy="374.6" r="1.5"/><circle cx="500.4" cy="374.6" r="1.5"/><circle cx="500.7" cy="374.6" r="1.5"/><circle cx="501.0" cy="374.6" r="1.5"/><circle cx="501.4" cy="374.6" r="1.5"/><circle cx="501.7" cy="374.6" r="1.5"/><circle cx="502.1" cy="374.6" r="1.5"/><circle cx="502.4" cy="374.6" r="1.5"/><circle cx="502.8" cy="374.6" r="1.5"/><circle cx="503.1" cy="374.6" r="1.5"/><circle cx="503.5" cy="374.6" r="1.5"/><circle cx="503.8" cy="374.6" r="1.5"/><circle cx="504.2" cy="374.6" r="1.5"/><circle cx="504.5" cy="374.6" r="1.5"/><circle cx="504.8" cy="374.6" r="1.5"/><circle cx="505.2" cy="374.6" r="1.5"/></g>
<circle cx="381.9" cy="238.4" r="1.5" fill="#b5213a"/>
<circle cx="382.2" cy="277.1" r="1.5" fill="#b5213a"/>
<circle cx="382.5" cy="286.6" r="1.5" fill="#8b1a4a"/>
<circle cx="383.3" cy="296.4" r="1.5" fill="#1d3a72"/>
<circle cx="384" cy="306.3" r="1.5" fill="#0f4a4a"/>
<circle cx="385" cy="316.4" r="1.5" fill="#b7cdb7"/>
<text x="385.9" y="240.1" font-size="4.9" fill="#333" textLength="12" lengthAdjust="spacingAndGlyphs">NFIL3</text>
<text x="386.1" y="278.8" font-size="4.9" fill="#333" textLength="10" lengthAdjust="spacingAndGlyphs">ELF3</text>
<text x="386.1" y="288.3" font-size="4.9" fill="#333" textLength="8.8" lengthAdjust="spacingAndGlyphs">SPIB</text>
<text x="386.5" y="296.3" font-size="4.9" fill="#333" textLength="14.5" lengthAdjust="spacingAndGlyphs">CEBPA</text>
<text x="386.5" y="301.6" font-size="4.9" fill="#333" textLength="6.4" lengthAdjust="spacingAndGlyphs">EHF</text>
<text x="386.5" y="306.4" font-size="4.9" fill="#333" textLength="15.2" lengthAdjust="spacingAndGlyphs">CEBPB</text>
<text x="386.5" y="311.7" font-size="4.9" fill="#333" textLength="7.4" lengthAdjust="spacingAndGlyphs">SP11</text>
<text x="387.5" y="317.1" font-size="4.9" fill="#333" textLength="10.3" lengthAdjust="spacingAndGlyphs">ATF4</text>
<text x="387.5" y="322" font-size="4.9" fill="#333" textLength="8.3" lengthAdjust="spacingAndGlyphs">HLF</text>
<text x="7.3" y="216.6" font-size="12.0" fill="#111" font-weight="bold" stroke="#111" stroke-width="0.35">E</text>
<text x="62" y="218.8" font-size="8.6" textLength="98" lengthAdjust="spacingAndGlyphs" stroke-width="0.2"><tspan fill="#c3304c" stroke="#c3304c">AML-Exposed</tspan><tspan fill="#333" stroke="#333"> vs </tspan><tspan fill="#3a6fa8" stroke="#3a6fa8">Healthy</tspan></text>
<line x1="88.18" y1="235" x2="88.18" y2="377" stroke="#eeeeee" stroke-width="0.8"/>
<line x1="110.62" y1="235" x2="110.62" y2="377" stroke="#eeeeee" stroke-width="0.8"/>
<line x1="37" y1="358.34000000000003" x2="185" y2="358.34000000000003" stroke="#eeeeee" stroke-width="0.8"/>
<text x="90.7" y="233.2" font-size="6.8" fill="#1a1a1a" textLength="17.4" lengthAdjust="spacingAndGlyphs" stroke="#1a1a1a" stroke-width="0.15">NEU2</text>
<polygon points="58.0,357.5 88.0,357.5 88.0,331.0 99.5,370.8 110.8,331.0 110.8,357.5 151.0,357.5 153.5,361.0 150.0,367.0 145.0,371.8 79.0,371.8 70.0,367.0 63.0,362.0" fill="#8b8b8b"/>
<polygon points="58.0,358.0 52.0,353.0 51.5,348.0 56.0,344.5 64.0,342.5 72.0,340.0 77.0,336.0 80.0,329.0 82.5,320.0 85.0,314.0 88.0,311.0 88.0,358.0" fill="#2a7cc2"/>
<polygon points="110.8,358.0 110.8,332.0 113.0,325.0 117.0,320.0 123.0,318.0 129.0,319.0 134.0,323.0 138.0,330.0 142.0,338.0 145.5,346.0 147.0,352.0 146.0,358.0" fill="#d6432b"/>
<polygon points="139,358 141,338 146,333 151,331 154,335 153,345 151,352 150,358" fill="#d6432b" opacity="0.6"/>
<g fill="#8c8c8c" stroke="#707070" stroke-width="0.35"><circle cx="65.7" cy="364.5" r="0.8"/><circle cx="122.7" cy="355.8" r="0.8"/><circle cx="77.4" cy="356.3" r="0.8"/><circle cx="154.8" cy="362.4" r="0.8"/><circle cx="58.2" cy="359.6" r="0.8"/><circle cx="78.2" cy="356.4" r="0.8"/><circle cx="152.4" cy="363.9" r="0.8"/><circle cx="146.7" cy="370.1" r="0.8"/><circle cx="127.8" cy="372.4" r="0.8"/><circle cx="71.7" cy="368.0" r="0.8"/><circle cx="73.8" cy="370.2" r="0.8"/><circle cx="154.8" cy="367.2" r="0.8"/><circle cx="60.7" cy="355.6" r="0.8"/><circle cx="123.5" cy="372.8" r="0.8"/><circle cx="99.0" cy="368.5" r="0.8"/><circle cx="80.7" cy="373.5" r="0.8"/><circle cx="133.8" cy="371.9" r="0.8"/><circle cx="145.9" cy="371.1" r="0.8"/><circle cx="98.9" cy="359.3" r="0.8"/><circle cx="113.8" cy="372.0" r="0.8"/><circle cx="135.3" cy="371.9" r="0.8"/><circle cx="124.7" cy="372.6" r="0.8"/><circle cx="155.0" cy="363.4" r="0.8"/><circle cx="142.8" cy="355.8" r="0.8"/><circle cx="95.9" cy="355.5" r="0.8"/><circle cx="60.8" cy="355.9" r="0.8"/><circle cx="135.4" cy="372.7" r="0.8"/><circle cx="98.2" cy="358.3" r="0.8"/><circle cx="146.5" cy="356.6" r="0.8"/><circle cx="149.5" cy="368.4" r="0.8"/><circle cx="115.1" cy="371.8" r="0.8"/><circle cx="80.9" cy="371.8" r="0.8"/><circle cx="99.6" cy="355.5" r="0.8"/><circle cx="135.6" cy="356.2" r="0.8"/><circle cx="151.3" cy="356.6" r="0.8"/><circle cx="153.5" cy="364.7" r="0.8"/><circle cx="112.8" cy="355.5" r="0.8"/><circle cx="153.6" cy="364.5" r="0.8"/><circle cx="122.4" cy="356.2" r="0.8"/><circle cx="98.4" cy="360.9" r="0.8"/><circle cx="66.4" cy="366.4" r="0.8"/><circle cx="148.6" cy="357.4" r="0.8"/><circle cx="67.9" cy="366.7" r="0.8"/><circle cx="80.3" cy="372.1" r="0.8"/><circle cx="144.4" cy="357.5" r="0.8"/><circle cx="71.8" cy="368.4" r="0.8"/><circle cx="74.1" cy="356.8" r="0.8"/><circle cx="133.5" cy="357.3" r="0.8"/><circle cx="121.4" cy="371.9" r="0.8"/><circle cx="66.2" cy="356.3" r="0.8"/><circle cx="139.1" cy="373.3" r="0.8"/><circle cx="148.8" cy="356.8" r="0.8"/><circle cx="112.3" cy="355.2" r="0.8"/><circle cx="102.4" cy="355.3" r="0.8"/><circle cx="125.9" cy="356.3" r="0.8"/><circle cx="87.1" cy="356.8" r="0.8"/><circle cx="153.3" cy="365.5" r="0.8"/><circle cx="135.7" cy="356.4" r="0.8"/><circle cx="62.9" cy="363.7" r="0.8"/><circle cx="63.9" cy="364.2" r="0.8"/><circle cx="113.5" cy="356.1" r="0.8"/><circle cx="72.4" cy="355.8" r="0.8"/><circle cx="128.8" cy="355.9" r="0.8"/><circle cx="154.0" cy="359.5" r="0.8"/><circle cx="103.6" cy="372.3" r="0.8"/><circle cx="112.6" cy="357.1" r="0.8"/><circle cx="67.8" cy="356.0" r="0.8"/><circle cx="147.6" cy="371.3" r="0.8"/><circle cx="114.8" cy="356.9" r="0.8"/><circle cx="118.2" cy="373.3" r="0.8"/><circle cx="128.6" cy="372.0" r="0.8"/><circle cx="131.9" cy="356.4" r="0.8"/><circle cx="68.9" cy="367.2" r="0.8"/><circle cx="86.0" cy="357.2" r="0.8"/><circle cx="149.7" cy="371.6" r="0.8"/><circle cx="66.8" cy="365.4" r="0.8"/><circle cx="153.2" cy="367.0" r="0.8"/><circle cx="135.1" cy="356.2" r="0.8"/><circle cx="69.7" cy="369.2" r="0.8"/><circle cx="153.4" cy="367.4" r="0.8"/><circle cx="100.3" cy="364.9" r="0.8"/><circle cx="152.3" cy="366.8" r="0.8"/><circle cx="128.0" cy="373.3" r="0.8"/><circle cx="77.7" cy="372.9" r="0.8"/><circle cx="110.4" cy="371.8" r="0.8"/><circle cx="71.4" cy="368.3" r="0.8"/><circle cx="74.2" cy="371.4" r="0.8"/><circle cx="106.3" cy="372.7" r="0.8"/><circle cx="99.1" cy="359.1" r="0.8"/><circle cx="116.3" cy="373.4" r="0.8"/><circle cx="125.3" cy="356.8" r="0.8"/><circle cx="98.8" cy="363.7" r="0.8"/><circle cx="152.0" cy="365.9" r="0.8"/><circle cx="147.7" cy="356.7" r="0.8"/><circle cx="96.7" cy="372.9" r="0.8"/><circle cx="137.6" cy="356.7" r="0.8"/><circle cx="60.8" cy="356.7" r="0.8"/><circle cx="55.1" cy="359.2" r="0.8"/><circle cx="62.6" cy="357.3" r="0.8"/><circle cx="155.5" cy="364.5" r="0.8"/><circle cx="81.9" cy="372.2" r="0.8"/><circle cx="77.3" cy="371.6" r="0.8"/><circle cx="61.0" cy="362.1" r="0.8"/><circle cx="116.9" cy="355.7" r="0.8"/><circle cx="152.4" cy="366.1" r="0.8"/><circle cx="97.6" cy="362.6" r="0.8"/></g>
<g fill="#2f84c8" stroke="#22649e" stroke-width="0.35"><circle cx="87.9" cy="323.4" r="0.8"/><circle cx="54.4" cy="356.8" r="0.8"/><circle cx="84.1" cy="343.5" r="0.8"/><circle cx="76.2" cy="331.6" r="0.8"/><circle cx="78.9" cy="349.2" r="0.8"/><circle cx="46.8" cy="343.5" r="0.8"/><circle cx="45.4" cy="351.1" r="0.8"/><circle cx="85.1" cy="352.9" r="0.8"/><circle cx="53.1" cy="351.6" r="0.8"/><circle cx="71.8" cy="335.5" r="0.8"/><circle cx="83.6" cy="356.5" r="0.8"/><circle cx="81.9" cy="323.3" r="0.8"/><circle cx="47.5" cy="356.6" r="0.8"/><circle cx="55.0" cy="356.6" r="0.8"/><circle cx="68.1" cy="349.7" r="0.8"/><circle cx="64.3" cy="338.4" r="0.8"/><circle cx="77.7" cy="312.2" r="0.8"/><circle cx="51.9" cy="344.5" r="0.8"/><circle cx="70.3" cy="355.1" r="0.8"/><circle cx="50.7" cy="345.3" r="0.8"/><circle cx="82.2" cy="306.8" r="0.8"/><circle cx="50.4" cy="353.2" r="0.8"/><circle cx="45.9" cy="352.5" r="0.8"/><circle cx="60.0" cy="342.6" r="0.8"/><circle cx="54.6" cy="349.3" r="0.8"/><circle cx="86.0" cy="305.3" r="0.8"/><circle cx="61.3" cy="346.8" r="0.8"/><circle cx="82.9" cy="304.0" r="0.8"/><circle cx="44.8" cy="351.2" r="0.8"/><circle cx="55.5" cy="340.3" r="0.8"/><circle cx="45.8" cy="350.2" r="0.8"/><circle cx="75.4" cy="349.8" r="0.8"/><circle cx="45.8" cy="344.1" r="0.8"/><circle cx="81.8" cy="332.4" r="0.8"/><circle cx="56.2" cy="348.0" r="0.8"/><circle cx="78.3" cy="313.5" r="0.8"/><circle cx="50.0" cy="349.4" r="0.8"/><circle cx="54.1" cy="354.9" r="0.8"/><circle cx="81.9" cy="319.5" r="0.8"/><circle cx="84.3" cy="314.1" r="0.8"/><circle cx="78.0" cy="352.1" r="0.8"/><circle cx="81.2" cy="317.5" r="0.8"/><circle cx="73.2" cy="329.2" r="0.8"/><circle cx="45.9" cy="357.8" r="0.8"/><circle cx="71.2" cy="339.9" r="0.8"/><circle cx="44.8" cy="346.4" r="0.8"/><circle cx="86.7" cy="340.7" r="0.8"/><circle cx="84.6" cy="325.6" r="0.8"/><circle cx="47.3" cy="355.9" r="0.8"/><circle cx="84.1" cy="308.6" r="0.8"/><circle cx="79.3" cy="326.0" r="0.8"/><circle cx="82.6" cy="319.1" r="0.8"/><circle cx="50.3" cy="351.7" r="0.8"/><circle cx="67.6" cy="351.5" r="0.8"/><circle cx="79.0" cy="319.7" r="0.8"/><circle cx="79.9" cy="316.7" r="0.8"/><circle cx="84.1" cy="330.5" r="0.8"/><circle cx="84.2" cy="312.8" r="0.8"/><circle cx="78.1" cy="323.2" r="0.8"/><circle cx="87.6" cy="350.7" r="0.8"/><circle cx="87.8" cy="305.9" r="0.8"/><circle cx="79.5" cy="346.1" r="0.8"/><circle cx="45.6" cy="352.5" r="0.8"/><circle cx="84.5" cy="312.3" r="0.8"/><circle cx="59.0" cy="342.3" r="0.8"/><circle cx="85.0" cy="344.6" r="0.8"/><circle cx="83.2" cy="316.0" r="0.8"/><circle cx="73.5" cy="337.1" r="0.8"/><circle cx="78.2" cy="327.9" r="0.8"/><circle cx="87.7" cy="330.6" r="0.8"/><circle cx="51.3" cy="350.2" r="0.8"/><circle cx="80.9" cy="323.5" r="0.8"/><circle cx="44.7" cy="340.8" r="0.8"/><circle cx="76.0" cy="336.2" r="0.8"/><circle cx="46.4" cy="355.8" r="0.8"/><circle cx="81.6" cy="301.4" r="0.8"/><circle cx="47.4" cy="342.8" r="0.8"/><circle cx="48.9" cy="350.2" r="0.8"/><circle cx="72.8" cy="353.6" r="0.8"/><circle cx="81.6" cy="343.4" r="0.8"/><circle cx="57.2" cy="357.5" r="0.8"/><circle cx="62.9" cy="355.0" r="0.8"/><circle cx="44.4" cy="336.3" r="0.8"/><circle cx="70.1" cy="343.6" r="0.8"/><circle cx="79.6" cy="317.9" r="0.8"/><circle cx="80.1" cy="318.6" r="0.8"/><circle cx="49.1" cy="352.1" r="0.8"/><circle cx="57.6" cy="345.7" r="0.8"/><circle cx="79.3" cy="315.3" r="0.8"/><circle cx="45.4" cy="349.1" r="0.8"/><circle cx="51.2" cy="350.2" r="0.8"/><circle cx="81.5" cy="328.0" r="0.8"/><circle cx="83.6" cy="317.1" r="0.8"/><circle cx="55.5" cy="356.4" r="0.8"/><circle cx="46.8" cy="345.0" r="0.8"/><circle cx="72.8" cy="328.1" r="0.8"/><circle cx="83.9" cy="342.6" r="0.8"/><circle cx="79.4" cy="327.7" r="0.8"/><circle cx="52.8" cy="344.6" r="0.8"/><circle cx="87.0" cy="333.6" r="0.8"/><circle cx="83.1" cy="345.6" r="0.8"/><circle cx="46.4" cy="339.1" r="0.8"/><circle cx="81.1" cy="317.9" r="0.8"/><circle cx="63.9" cy="346.9" r="0.8"/><circle cx="85.8" cy="303.2" r="0.8"/><circle cx="83.6" cy="301.3" r="0.8"/><circle cx="77.2" cy="325.5" r="0.8"/><circle cx="52.7" cy="355.1" r="0.8"/><circle cx="47.5" cy="348.0" r="0.8"/><circle cx="73.5" cy="347.0" r="0.8"/><circle cx="81.8" cy="339.2" r="0.8"/><circle cx="48.9" cy="340.9" r="0.8"/><circle cx="45.4" cy="339.6" r="0.8"/><circle cx="59.3" cy="340.9" r="0.8"/><circle cx="73.7" cy="351.0" r="0.8"/><circle cx="50.6" cy="356.0" r="0.8"/><circle cx="59.7" cy="342.5" r="0.8"/><circle cx="56.6" cy="344.3" r="0.8"/><circle cx="53.0" cy="349.2" r="0.8"/><circle cx="83.0" cy="346.5" r="0.8"/><circle cx="86.7" cy="322.3" r="0.8"/><circle cx="85.1" cy="306.8" r="0.8"/><circle cx="80.1" cy="347.8" r="0.8"/><circle cx="51.2" cy="350.4" r="0.8"/><circle cx="44.9" cy="343.5" r="0.8"/><circle cx="44.7" cy="357.9" r="0.8"/><circle cx="45.8" cy="357.1" r="0.8"/><circle cx="82.7" cy="331.9" r="0.8"/><circle cx="85.2" cy="355.8" r="0.8"/><circle cx="84.3" cy="327.5" r="0.8"/><circle cx="51.5" cy="356.8" r="0.8"/><circle cx="74.2" cy="337.7" r="0.8"/><circle cx="68.6" cy="335.4" r="0.8"/><circle cx="48.0" cy="346.5" r="0.8"/><circle cx="86.6" cy="336.0" r="0.8"/><circle cx="81.2" cy="340.9" r="0.8"/><circle cx="52.6" cy="339.4" r="0.8"/><circle cx="80.7" cy="348.9" r="0.8"/><circle cx="72.3" cy="344.1" r="0.8"/><circle cx="82.1" cy="313.7" r="0.8"/><circle cx="76.2" cy="321.1" r="0.8"/><circle cx="81.2" cy="323.8" r="0.8"/><circle cx="82.2" cy="355.9" r="0.8"/><circle cx="77.5" cy="317.8" r="0.8"/><circle cx="51.1" cy="356.0" r="0.8"/><circle cx="56.0" cy="342.8" r="0.8"/><circle cx="74.8" cy="336.9" r="0.8"/><circle cx="85.4" cy="301.7" r="0.8"/><circle cx="45.6" cy="351.0" r="0.8"/><circle cx="46.3" cy="354.4" r="0.8"/><circle cx="78.3" cy="273.0" r="0.8"/><circle cx="72.4" cy="286.6" r="0.8"/><circle cx="79.8" cy="282.0" r="0.8"/><circle cx="81.6" cy="296.8" r="0.8"/><circle cx="75.0" cy="300.0" r="0.8"/><circle cx="83.0" cy="305.0" r="0.8"/></g>
<g fill="#d9492f" stroke="#b0301f" stroke-width="0.35"><circle cx="135.9" cy="268.2" r="0.8"/><circle cx="142.0" cy="266.3" r="0.8"/><circle cx="131.0" cy="270.4" r="0.8"/><circle cx="143.0" cy="264.7" r="0.8"/><circle cx="130.0" cy="264.4" r="0.8"/><circle cx="135.8" cy="258.4" r="0.8"/><circle cx="138.5" cy="260.4" r="0.8"/><circle cx="129.0" cy="282.2" r="0.8"/><circle cx="137.2" cy="282.7" r="0.8"/><circle cx="132.4" cy="281.9" r="0.8"/><circle cx="144.9" cy="278.6" r="0.8"/><circle cx="127.7" cy="273.0" r="0.8"/><circle cx="131.9" cy="281.7" r="0.8"/><circle cx="131.6" cy="273.8" r="0.8"/><circle cx="139.6" cy="280.0" r="0.8"/><circle cx="137.2" cy="277.6" r="0.8"/><circle cx="136.4" cy="281.5" r="0.8"/><circle cx="138.8" cy="272.6" r="0.8"/><circle cx="130.8" cy="273.0" r="0.8"/><circle cx="142.3" cy="285.4" r="0.8"/><circle cx="135.7" cy="278.8" r="0.8"/><circle cx="145.6" cy="276.4" r="0.8"/><circle cx="128.6" cy="273.7" r="0.8"/><circle cx="142.6" cy="275.1" r="0.8"/><circle cx="131.3" cy="279.1" r="0.8"/><circle cx="143.6" cy="291.6" r="0.8"/><circle cx="140.7" cy="289.6" r="0.8"/><circle cx="130.5" cy="295.9" r="0.8"/><circle cx="130.1" cy="291.1" r="0.8"/><circle cx="126.5" cy="292.3" r="0.8"/><circle cx="129.3" cy="294.7" r="0.8"/><circle cx="140.2" cy="290.3" r="0.8"/><circle cx="131.2" cy="292.4" r="0.8"/><circle cx="130.6" cy="298.3" r="0.8"/><circle cx="143.9" cy="291.3" r="0.8"/><circle cx="140.6" cy="299.7" r="0.8"/><circle cx="137.1" cy="291.6" r="0.8"/><circle cx="125.9" cy="296.4" r="0.8"/><circle cx="145.5" cy="296.1" r="0.8"/><circle cx="137.1" cy="295.2" r="0.8"/><circle cx="136.6" cy="292.1" r="0.8"/><circle cx="140.1" cy="289.2" r="0.8"/><circle cx="146.4" cy="293.5" r="0.8"/><circle cx="138.4" cy="290.8" r="0.8"/><circle cx="129.5" cy="286.2" r="0.8"/><circle cx="124.8" cy="296.7" r="0.8"/><circle cx="123.6" cy="294.6" r="0.8"/><circle cx="146.8" cy="291.6" r="0.8"/><circle cx="144.4" cy="288.8" r="0.8"/><circle cx="134.5" cy="286.8" r="0.8"/><circle cx="142.1" cy="297.5" r="0.8"/><circle cx="134.7" cy="291.5" r="0.8"/><circle cx="139.9" cy="296.0" r="0.8"/><circle cx="134.4" cy="296.5" r="0.8"/><circle cx="138.2" cy="289.5" r="0.8"/><circle cx="133.3" cy="293.9" r="0.8"/><circle cx="121.1" cy="299.8" r="0.8"/><circle cx="126.7" cy="296.9" r="0.8"/><circle cx="145.5" cy="296.2" r="0.8"/><circle cx="134.0" cy="289.8" r="0.8"/><circle cx="131.9" cy="293.4" r="0.8"/><circle cx="135.8" cy="288.3" r="0.8"/><circle cx="136.9" cy="298.5" r="0.8"/><circle cx="141.2" cy="290.0" r="0.8"/><circle cx="130.8" cy="294.5" r="0.8"/><circle cx="146.7" cy="293.4" r="0.8"/><circle cx="145.6" cy="294.0" r="0.8"/><circle cx="139.8" cy="290.9" r="0.8"/><circle cx="126.0" cy="287.1" r="0.8"/><circle cx="137.7" cy="295.7" r="0.8"/><circle cx="126.9" cy="309.9" r="0.8"/><circle cx="126.2" cy="303.3" r="0.8"/><circle cx="136.3" cy="304.5" r="0.8"/><circle cx="124.6" cy="301.8" r="0.8"/><circle cx="145.7" cy="310.5" r="0.8"/><circle cx="120.0" cy="303.0" r="0.8"/><circle cx="139.1" cy="309.5" r="0.8"/><circle cx="130.6" cy="303.2" r="0.8"/><circle cx="143.2" cy="309.8" r="0.8"/><circle cx="137.9" cy="302.5" r="0.8"/><circle cx="125.5" cy="308.4" r="0.8"/><circle cx="121.4" cy="310.5" r="0.8"/><circle cx="124.7" cy="305.7" r="0.8"/><circle cx="141.6" cy="305.3" r="0.8"/><circle cx="134.7" cy="306.8" r="0.8"/><circle cx="121.6" cy="311.8" r="0.8"/><circle cx="135.1" cy="302.7" r="0.8"/><circle cx="146.8" cy="301.8" r="0.8"/><circle cx="129.0" cy="304.1" r="0.8"/><circle cx="142.1" cy="305.2" r="0.8"/><circle cx="137.0" cy="311.0" r="0.8"/><circle cx="126.1" cy="302.1" r="0.8"/><circle cx="121.3" cy="308.5" r="0.8"/><circle cx="143.7" cy="310.6" r="0.8"/><circle cx="126.4" cy="302.7" r="0.8"/><circle cx="138.4" cy="302.7" r="0.8"/><circle cx="137.7" cy="300.6" r="0.8"/><circle cx="142.6" cy="300.8" r="0.8"/><circle cx="133.8" cy="306.5" r="0.8"/><circle cx="147.5" cy="304.2" r="0.8"/><circle cx="143.3" cy="307.2" r="0.8"/><circle cx="137.7" cy="300.3" r="0.8"/><circle cx="123.3" cy="302.1" r="0.8"/><circle cx="137.6" cy="308.0" r="0.8"/><circle cx="129.9" cy="303.9" r="0.8"/><circle cx="133.1" cy="303.5" r="0.8"/><circle cx="126.2" cy="304.3" r="0.8"/><circle cx="123.9" cy="303.0" r="0.8"/><circle cx="134.1" cy="303.7" r="0.8"/><circle cx="129.9" cy="310.2" r="0.8"/><circle cx="124.6" cy="306.1" r="0.8"/><circle cx="139.6" cy="310.6" r="0.8"/><circle cx="136.4" cy="307.5" r="0.8"/><circle cx="131.0" cy="308.3" r="0.8"/><circle cx="127.3" cy="305.0" r="0.8"/><circle cx="129.9" cy="306.0" r="0.8"/><circle cx="132.1" cy="306.3" r="0.8"/><circle cx="144.3" cy="309.5" r="0.8"/><circle cx="135.1" cy="309.6" r="0.8"/><circle cx="120.5" cy="303.4" r="0.8"/><circle cx="142.4" cy="310.4" r="0.8"/><circle cx="137.5" cy="308.2" r="0.8"/><circle cx="129.5" cy="308.9" r="0.8"/><circle cx="132.8" cy="304.8" r="0.8"/><circle cx="147.7" cy="310.6" r="0.8"/><circle cx="142.4" cy="311.0" r="0.8"/><circle cx="122.4" cy="300.9" r="0.8"/><circle cx="132.5" cy="311.7" r="0.8"/><circle cx="124.5" cy="306.2" r="0.8"/><circle cx="131.6" cy="310.3" r="0.8"/><circle cx="116.6" cy="311.9" r="0.8"/><circle cx="127.2" cy="301.8" r="0.8"/><circle cx="117.8" cy="307.7" r="0.8"/><circle cx="145.9" cy="306.7" r="0.8"/><circle cx="139.9" cy="305.2" r="0.8"/><circle cx="133.8" cy="307.1" r="0.8"/><circle cx="129.8" cy="302.1" r="0.8"/><circle cx="136.9" cy="310.8" r="0.8"/><circle cx="129.2" cy="302.6" r="0.8"/><circle cx="125.4" cy="306.5" r="0.8"/><circle cx="135.5" cy="306.9" r="0.8"/><circle cx="121.5" cy="300.2" r="0.8"/><circle cx="121.3" cy="307.9" r="0.8"/><circle cx="139.9" cy="300.9" r="0.8"/><circle cx="146.6" cy="304.0" r="0.8"/><circle cx="117.4" cy="306.7" r="0.8"/><circle cx="122.9" cy="307.6" r="0.8"/><circle cx="138.6" cy="309.8" r="0.8"/><circle cx="141.1" cy="300.4" r="0.8"/><circle cx="120.9" cy="301.7" r="0.8"/><circle cx="119.6" cy="300.4" r="0.8"/><circle cx="146.6" cy="305.7" r="0.8"/><circle cx="122.8" cy="303.9" r="0.8"/><circle cx="120.3" cy="309.9" r="0.8"/><circle cx="134.9" cy="307.6" r="0.8"/><circle cx="127.0" cy="306.8" r="0.8"/><circle cx="122.6" cy="309.9" r="0.8"/><circle cx="120.3" cy="308.6" r="0.8"/><circle cx="146.9" cy="305.9" r="0.8"/><circle cx="123.5" cy="302.9" r="0.8"/><circle cx="136.9" cy="311.0" r="0.8"/><circle cx="120.3" cy="300.8" r="0.8"/><circle cx="123.9" cy="302.8" r="0.8"/><circle cx="137.8" cy="310.1" r="0.8"/><circle cx="136.8" cy="311.8" r="0.8"/><circle cx="127.0" cy="307.5" r="0.8"/><circle cx="130.8" cy="308.6" r="0.8"/><circle cx="130.7" cy="300.7" r="0.8"/><circle cx="132.1" cy="304.6" r="0.8"/><circle cx="126.6" cy="311.8" r="0.8"/><circle cx="119.0" cy="304.0" r="0.8"/><circle cx="145.1" cy="307.1" r="0.8"/><circle cx="131.0" cy="302.2" r="0.8"/><circle cx="140.0" cy="306.0" r="0.8"/><circle cx="122.1" cy="306.8" r="0.8"/><circle cx="138.6" cy="302.3" r="0.8"/><circle cx="143.4" cy="300.9" r="0.8"/><circle cx="120.4" cy="300.4" r="0.8"/><circle cx="142.7" cy="305.6" r="0.8"/><circle cx="139.4" cy="307.4" r="0.8"/><circle cx="138.6" cy="309.1" r="0.8"/><circle cx="142.1" cy="300.6" r="0.8"/><circle cx="119.5" cy="301.8" r="0.8"/><circle cx="127.0" cy="310.5" r="0.8"/><circle cx="134.5" cy="310.2" r="0.8"/><circle cx="121.9" cy="313.4" r="0.8"/><circle cx="115.3" cy="314.3" r="0.8"/><circle cx="135.3" cy="314.4" r="0.8"/><circle cx="117.4" cy="314.0" r="0.8"/><circle cx="132.6" cy="313.8" r="0.8"/><circle cx="125.7" cy="318.1" r="0.8"/><circle cx="118.3" cy="319.4" r="0.8"/><circle cx="131.6" cy="316.7" r="0.8"/><circle cx="137.9" cy="316.6" r="0.8"/><circle cx="137.9" cy="316.5" r="0.8"/><circle cx="122.1" cy="315.4" r="0.8"/><circle cx="140.8" cy="321.0" r="0.8"/><circle cx="146.1" cy="320.4" r="0.8"/><circle cx="125.9" cy="314.2" r="0.8"/><circle cx="140.1" cy="322.2" r="0.8"/><circle cx="148.2" cy="313.4" r="0.8"/><circle cx="143.9" cy="320.9" r="0.8"/><circle cx="134.0" cy="316.3" r="0.8"/><circle cx="145.1" cy="323.5" r="0.8"/><circle cx="144.8" cy="318.9" r="0.8"/><circle cx="142.9" cy="324.0" r="0.8"/><circle cx="147.5" cy="319.9" r="0.8"/><circle cx="126.3" cy="313.7" r="0.8"/><circle cx="116.0" cy="318.8" r="0.8"/><circle cx="113.4" cy="321.4" r="0.8"/><circle cx="134.1" cy="315.9" r="0.8"/><circle cx="128.0" cy="314.3" r="0.8"/><circle cx="148.5" cy="322.3" r="0.8"/><circle cx="124.9" cy="315.2" r="0.8"/><circle cx="123.5" cy="312.0" r="0.8"/><circle cx="148.7" cy="315.3" r="0.8"/><circle cx="138.5" cy="317.8" r="0.8"/><circle cx="146.5" cy="322.3" r="0.8"/><circle cx="123.1" cy="317.1" r="0.8"/><circle cx="122.9" cy="316.8" r="0.8"/><circle cx="116.8" cy="320.2" r="0.8"/><circle cx="147.7" cy="321.4" r="0.8"/><circle cx="134.4" cy="314.4" r="0.8"/><circle cx="118.0" cy="317.0" r="0.8"/><circle cx="132.7" cy="320.8" r="0.8"/><circle cx="147.8" cy="320.1" r="0.8"/><circle cx="128.5" cy="312.4" r="0.8"/><circle cx="137.0" cy="321.9" r="0.8"/><circle cx="143.5" cy="318.6" r="0.8"/><circle cx="115.3" cy="316.5" r="0.8"/><circle cx="115.9" cy="318.4" r="0.8"/><circle cx="142.3" cy="319.2" r="0.8"/><circle cx="115.6" cy="316.1" r="0.8"/><circle cx="138.7" cy="320.1" r="0.8"/><circle cx="143.8" cy="319.0" r="0.8"/><circle cx="148.0" cy="320.1" r="0.8"/><circle cx="140.4" cy="315.4" r="0.8"/><circle cx="129.1" cy="312.1" r="0.8"/><circle cx="133.9" cy="315.2" r="0.8"/><circle cx="130.4" cy="318.1" r="0.8"/><circle cx="116.0" cy="312.7" r="0.8"/><circle cx="136.9" cy="319.3" r="0.8"/><circle cx="141.1" cy="323.9" r="0.8"/><circle cx="128.3" cy="315.5" r="0.8"/><circle cx="141.6" cy="318.1" r="0.8"/><circle cx="146.0" cy="316.7" r="0.8"/><circle cx="126.1" cy="317.8" r="0.8"/><circle cx="124.6" cy="317.8" r="0.8"/><circle cx="112.8" cy="324.0" r="0.8"/><circle cx="116.7" cy="320.1" r="0.8"/><circle cx="127.1" cy="313.8" r="0.8"/><circle cx="140.0" cy="319.2" r="0.8"/><circle cx="122.2" cy="317.3" r="0.8"/><circle cx="144.8" cy="316.4" r="0.8"/><circle cx="116.2" cy="313.6" r="0.8"/><circle cx="139.5" cy="322.7" r="0.8"/><circle cx="136.7" cy="312.8" r="0.8"/><circle cx="127.9" cy="314.6" r="0.8"/><circle cx="140.6" cy="313.7" r="0.8"/><circle cx="141.0" cy="322.8" r="0.8"/><circle cx="145.8" cy="315.6" r="0.8"/><circle cx="135.4" cy="314.5" r="0.8"/><circle cx="146.1" cy="312.9" r="0.8"/><circle cx="134.5" cy="323.4" r="0.8"/><circle cx="138.5" cy="315.8" r="0.8"/><circle cx="141.2" cy="322.8" r="0.8"/><circle cx="130.2" cy="312.5" r="0.8"/><circle cx="131.8" cy="313.7" r="0.8"/><circle cx="143.9" cy="323.4" r="0.8"/><circle cx="132.0" cy="315.0" r="0.8"/><circle cx="117.4" cy="315.8" r="0.8"/><circle cx="139.9" cy="320.9" r="0.8"/><circle cx="127.0" cy="316.0" r="0.8"/><circle cx="138.6" cy="320.4" r="0.8"/><circle cx="115.5" cy="317.6" r="0.8"/><circle cx="117.4" cy="313.1" r="0.8"/><circle cx="117.7" cy="316.4" r="0.8"/><circle cx="137.7" cy="313.5" r="0.8"/><circle cx="134.3" cy="319.2" r="0.8"/><circle cx="134.1" cy="321.2" r="0.8"/><circle cx="147.8" cy="322.5" r="0.8"/><circle cx="135.6" cy="316.9" r="0.8"/><circle cx="126.6" cy="316.5" r="0.8"/><circle cx="135.6" cy="316.4" r="0.8"/><circle cx="124.4" cy="316.2" r="0.8"/><circle cx="141.4" cy="322.2" r="0.8"/><circle cx="143.1" cy="320.1" r="0.8"/><circle cx="135.4" cy="316.6" r="0.8"/><circle cx="123.0" cy="315.0" r="0.8"/><circle cx="141.3" cy="313.2" r="0.8"/><circle cx="115.4" cy="316.5" r="0.8"/><circle cx="135.3" cy="313.7" r="0.8"/><circle cx="114.2" cy="322.7" r="0.8"/><circle cx="139.8" cy="315.1" r="0.8"/><circle cx="144.4" cy="314.7" r="0.8"/><circle cx="129.0" cy="316.2" r="0.8"/><circle cx="122.0" cy="314.4" r="0.8"/><circle cx="121.6" cy="317.1" r="0.8"/><circle cx="141.5" cy="319.7" r="0.8"/><circle cx="118.3" cy="315.9" r="0.8"/><circle cx="133.9" cy="321.5" r="0.8"/><circle cx="128.2" cy="312.2" r="0.8"/><circle cx="127.0" cy="312.4" r="0.8"/><circle cx="147.9" cy="316.2" r="0.8"/><circle cx="146.1" cy="316.3" r="0.8"/><circle cx="141.7" cy="313.5" r="0.8"/><circle cx="132.2" cy="313.1" r="0.8"/><circle cx="116.9" cy="316.9" r="0.8"/><circle cx="147.3" cy="322.8" r="0.8"/><circle cx="135.5" cy="321.1" r="0.8"/><circle cx="140.6" cy="317.7" r="0.8"/><circle cx="126.7" cy="318.4" r="0.8"/><circle cx="138.1" cy="318.2" r="0.8"/><circle cx="132.7" cy="320.3" r="0.8"/><circle cx="142.4" cy="321.5" r="0.8"/><circle cx="116.5" cy="313.1" r="0.8"/><circle cx="117.1" cy="312.6" r="0.8"/><circle cx="128.7" cy="317.3" r="0.8"/><circle cx="141.5" cy="322.1" r="0.8"/><circle cx="131.8" cy="312.0" r="0.8"/><circle cx="144.6" cy="313.1" r="0.8"/><circle cx="121.2" cy="312.8" r="0.8"/><circle cx="133.5" cy="321.2" r="0.8"/><circle cx="118.7" cy="318.2" r="0.8"/><circle cx="120.8" cy="317.5" r="0.8"/><circle cx="115.1" cy="320.1" r="0.8"/><circle cx="118.5" cy="313.7" r="0.8"/><circle cx="133.1" cy="318.4" r="0.8"/><circle cx="148.5" cy="312.0" r="0.8"/><circle cx="142.4" cy="313.9" r="0.8"/><circle cx="142.1" cy="321.1" r="0.8"/><circle cx="117.3" cy="313.4" r="0.8"/><circle cx="145.2" cy="314.8" r="0.8"/><circle cx="124.4" cy="313.5" r="0.8"/><circle cx="135.6" cy="314.9" r="0.8"/><circle cx="140.5" cy="320.6" r="0.8"/><circle cx="128.4" cy="317.2" r="0.8"/><circle cx="125.1" cy="317.6" r="0.8"/><circle cx="137.0" cy="317.5" r="0.8"/><circle cx="116.5" cy="318.8" r="0.8"/><circle cx="125.7" cy="312.5" r="0.8"/><circle cx="127.2" cy="313.0" r="0.8"/><circle cx="142.8" cy="323.3" r="0.8"/><circle cx="140.8" cy="324.5" r="0.8"/><circle cx="139.2" cy="331.8" r="0.8"/><circle cx="148.4" cy="344.4" r="0.8"/><circle cx="146.0" cy="330.9" r="0.8"/><circle cx="139.5" cy="332.3" r="0.8"/><circle cx="146.4" cy="344.3" r="0.8"/><circle cx="148.0" cy="336.8" r="0.8"/><circle cx="140.4" cy="328.9" r="0.8"/><circle cx="145.5" cy="334.4" r="0.8"/><circle cx="138.7" cy="326.8" r="0.8"/><circle cx="147.5" cy="354.1" r="0.8"/><circle cx="147.3" cy="356.0" r="0.8"/><circle cx="139.5" cy="331.1" r="0.8"/><circle cx="148.9" cy="356.9" r="0.8"/><circle cx="148.9" cy="329.0" r="0.8"/><circle cx="148.1" cy="356.7" r="0.8"/><circle cx="139.5" cy="326.1" r="0.8"/><circle cx="145.9" cy="340.6" r="0.8"/><circle cx="144.8" cy="324.7" r="0.8"/><circle cx="146.5" cy="347.2" r="0.8"/><circle cx="148.4" cy="351.5" r="0.8"/><circle cx="149.6" cy="351.6" r="0.8"/><circle cx="149.7" cy="335.9" r="0.8"/><circle cx="142.3" cy="338.4" r="0.8"/><circle cx="149.1" cy="335.5" r="0.8"/><circle cx="145.9" cy="334.3" r="0.8"/><circle cx="148.8" cy="328.6" r="0.8"/><circle cx="137.1" cy="326.4" r="0.8"/><circle cx="149.6" cy="354.8" r="0.8"/><circle cx="146.9" cy="354.2" r="0.8"/><circle cx="143.1" cy="332.6" r="0.8"/><circle cx="141.9" cy="324.0" r="0.8"/><circle cx="145.6" cy="326.1" r="0.8"/><circle cx="147.1" cy="341.9" r="0.8"/><circle cx="141.1" cy="335.2" r="0.8"/><circle cx="145.7" cy="333.8" r="0.8"/><circle cx="141.1" cy="335.9" r="0.8"/><circle cx="148.6" cy="324.0" r="0.8"/><circle cx="149.3" cy="349.6" r="0.8"/><circle cx="148.1" cy="336.5" r="0.8"/><circle cx="143.3" cy="334.7" r="0.8"/><circle cx="148.7" cy="329.3" r="0.8"/><circle cx="147.0" cy="355.1" r="0.8"/><circle cx="146.5" cy="336.5" r="0.8"/><circle cx="145.3" cy="325.4" r="0.8"/><circle cx="142.5" cy="339.0" r="0.8"/><circle cx="143.1" cy="332.9" r="0.8"/><circle cx="148.0" cy="348.3" r="0.8"/><circle cx="138.1" cy="327.0" r="0.8"/><circle cx="147.5" cy="328.1" r="0.8"/><circle cx="149.4" cy="337.3" r="0.8"/><circle cx="139.3" cy="329.8" r="0.8"/><circle cx="142.3" cy="326.8" r="0.8"/><circle cx="144.8" cy="325.0" r="0.8"/><circle cx="146.6" cy="340.6" r="0.8"/><circle cx="144.8" cy="338.7" r="0.8"/><circle cx="147.0" cy="354.0" r="0.8"/><circle cx="137.4" cy="326.2" r="0.8"/><circle cx="163.4" cy="325.6" r="0.8"/><circle cx="147.5" cy="347.5" r="0.8"/><circle cx="162.7" cy="318.2" r="0.8"/><circle cx="157.1" cy="330.4" r="0.8"/><circle cx="141.3" cy="352.6" r="0.8"/><circle cx="162.8" cy="320.8" r="0.8"/><circle cx="165.5" cy="322.2" r="0.8"/><circle cx="141.3" cy="351.6" r="0.8"/><circle cx="155.1" cy="318.1" r="0.8"/><circle cx="145.6" cy="336.9" r="0.8"/><circle cx="145.5" cy="349.0" r="0.8"/><circle cx="161.8" cy="333.7" r="0.8"/><circle cx="163.5" cy="330.9" r="0.8"/><circle cx="155.6" cy="339.1" r="0.8"/><circle cx="146.7" cy="330.8" r="0.8"/><circle cx="160.2" cy="318.4" r="0.8"/><circle cx="147.6" cy="341.9" r="0.8"/><circle cx="160.5" cy="329.3" r="0.8"/><circle cx="147.0" cy="338.0" r="0.8"/><circle cx="164.1" cy="318.3" r="0.8"/><circle cx="149.3" cy="332.5" r="0.8"/><circle cx="146.9" cy="345.9" r="0.8"/><circle cx="157.5" cy="336.6" r="0.8"/><circle cx="141.1" cy="351.4" r="0.8"/><circle cx="156.5" cy="339.6" r="0.8"/><circle cx="161.0" cy="329.4" r="0.8"/><circle cx="143.8" cy="353.5" r="0.8"/><circle cx="149.8" cy="337.6" r="0.8"/><circle cx="165.2" cy="319.5" r="0.8"/><circle cx="156.3" cy="324.7" r="0.8"/><circle cx="155.7" cy="334.1" r="0.8"/><circle cx="148.7" cy="337.1" r="0.8"/><circle cx="146.7" cy="339.9" r="0.8"/><circle cx="157.3" cy="326.4" r="0.8"/><circle cx="146.1" cy="336.9" r="0.8"/><circle cx="140.7" cy="348.6" r="0.8"/><circle cx="162.9" cy="323.4" r="0.8"/><circle cx="154.8" cy="325.5" r="0.8"/><circle cx="154.9" cy="339.7" r="0.8"/><circle cx="158.3" cy="323.6" r="0.8"/><circle cx="146.4" cy="345.6" r="0.8"/><circle cx="143.3" cy="331.1" r="0.8"/><circle cx="165.6" cy="320.6" r="0.8"/><circle cx="147.9" cy="336.4" r="0.8"/><circle cx="152.3" cy="338.0" r="0.8"/><circle cx="144.8" cy="351.5" r="0.8"/><circle cx="146.2" cy="346.3" r="0.8"/><circle cx="147.5" cy="347.4" r="0.8"/><circle cx="142.2" cy="348.1" r="0.8"/><circle cx="154.1" cy="334.3" r="0.8"/><circle cx="156.2" cy="325.0" r="0.8"/><circle cx="156.9" cy="323.1" r="0.8"/><circle cx="148.0" cy="347.2" r="0.8"/><circle cx="152.5" cy="341.1" r="0.8"/><circle cx="159.8" cy="328.5" r="0.8"/><circle cx="155.8" cy="324.2" r="0.8"/><circle cx="154.8" cy="339.1" r="0.8"/><circle cx="160.7" cy="332.4" r="0.8"/><circle cx="151.7" cy="333.9" r="0.8"/><circle cx="159.8" cy="334.7" r="0.8"/><circle cx="165.8" cy="322.1" r="0.8"/><circle cx="156.8" cy="338.4" r="0.8"/><circle cx="150.4" cy="344.7" r="0.8"/><circle cx="156.0" cy="339.3" r="0.8"/><circle cx="159.4" cy="321.0" r="0.8"/><circle cx="151.8" cy="331.1" r="0.8"/><circle cx="160.0" cy="322.4" r="0.8"/><circle cx="154.8" cy="331.4" r="0.8"/><circle cx="158.0" cy="333.3" r="0.8"/><circle cx="158.2" cy="336.0" r="0.8"/><circle cx="159.0" cy="308.5" r="0.8"/><circle cx="153.0" cy="329.8" r="0.8"/><circle cx="144.5" cy="341.8" r="0.8"/><circle cx="144.5" cy="352.3" r="0.8"/><circle cx="164.0" cy="323.2" r="0.8"/><circle cx="144.6" cy="336.0" r="0.8"/><circle cx="154.0" cy="337.5" r="0.8"/><circle cx="163.2" cy="332.4" r="0.8"/><circle cx="140.2" cy="331.8" r="0.8"/><circle cx="152.1" cy="341.0" r="0.8"/><circle cx="157.2" cy="332.1" r="0.8"/><circle cx="149.6" cy="345.6" r="0.8"/><circle cx="151.9" cy="340.9" r="0.8"/><circle cx="154.6" cy="337.7" r="0.8"/><circle cx="152.7" cy="323.9" r="0.8"/><circle cx="156.2" cy="333.3" r="0.8"/><circle cx="148.7" cy="332.8" r="0.8"/><circle cx="147.3" cy="345.4" r="0.8"/><circle cx="154.8" cy="339.3" r="0.8"/><circle cx="157.5" cy="336.0" r="0.8"/><circle cx="153.2" cy="341.8" r="0.8"/><circle cx="146.3" cy="344.2" r="0.8"/><circle cx="151.8" cy="330.6" r="0.8"/><circle cx="147.3" cy="342.3" r="0.8"/><circle cx="156.7" cy="318.5" r="0.8"/><circle cx="161.7" cy="330.6" r="0.8"/><circle cx="146.4" cy="336.0" r="0.8"/><circle cx="149.0" cy="345.9" r="0.8"/><circle cx="146.9" cy="347.5" r="0.8"/><circle cx="158.5" cy="325.2" r="0.8"/><circle cx="146.9" cy="344.4" r="0.8"/><circle cx="163.5" cy="324.9" r="0.8"/><circle cx="151.8" cy="332.2" r="0.8"/><circle cx="154.1" cy="333.3" r="0.8"/><circle cx="154.8" cy="314.5" r="0.8"/><circle cx="160.1" cy="325.0" r="0.8"/><circle cx="142.5" cy="353.1" r="0.8"/><circle cx="141.4" cy="356.3" r="0.8"/><circle cx="162.1" cy="333.2" r="0.8"/><circle cx="144.8" cy="349.9" r="0.8"/><circle cx="153.4" cy="342.0" r="0.8"/><circle cx="144.5" cy="351.1" r="0.8"/><circle cx="140.3" cy="347.8" r="0.8"/><circle cx="153.3" cy="340.0" r="0.8"/><circle cx="156.0" cy="321.5" r="0.8"/><circle cx="164.6" cy="326.8" r="0.8"/><circle cx="150.1" cy="339.1" r="0.8"/><circle cx="153.0" cy="322.7" r="0.8"/><circle cx="153.0" cy="326.3" r="0.8"/><circle cx="145.4" cy="330.4" r="0.8"/><circle cx="147.4" cy="348.7" r="0.8"/><circle cx="155.9" cy="333.1" r="0.8"/><circle cx="145.1" cy="347.6" r="0.8"/><circle cx="153.6" cy="339.7" r="0.8"/><circle cx="158.6" cy="329.6" r="0.8"/><circle cx="155.8" cy="340.4" r="0.8"/><circle cx="149.0" cy="308.5" r="0.8"/><circle cx="144.8" cy="348.7" r="0.8"/><circle cx="142.3" cy="352.1" r="0.8"/><circle cx="140.9" cy="352.5" r="0.8"/></g>
<circle cx="144" cy="235" r="0.8" fill="#7a6a6a"/>
<circle cx="179.8" cy="292.5" r="0.8" fill="#b06060"/>
<text x="42.1" y="346.1" font-size="7" fill="#1a1a1a" stroke="#1a1a1a" stroke-width="0.2">Cebpe</text>
<text x="55.6" y="358.6" font-size="7" fill="#1a1a1a" stroke="#1a1a1a" stroke-width="0.2">Nos1</text>
<text x="66.5" y="368.2" font-size="7" fill="#1a1a1a" stroke="#1a1a1a" stroke-width="0.2">Isg20</text>
<text x="91.2" y="351.4" font-size="7" fill="#1a1a1a" stroke="#1a1a1a" stroke-width="0.2">Nfkb1</text>
<text x="108.5" y="333.5" font-size="7" fill="#1a1a1a" stroke="#1a1a1a" stroke-width="0.2">S100a9</text>
<text x="137.5" y="337.6" font-size="7" fill="#1a1a1a" stroke="#1a1a1a" stroke-width="0.2">S100a8</text>
<text x="102.3" y="342.6" font-size="7" fill="#1a1a1a" stroke="#1a1a1a" stroke-width="0.2">Cd14</text>
<text x="135.6" y="345" font-size="7" fill="#1a1a1a" stroke="#1a1a1a" stroke-width="0.2">Irf8</text>
<text x="119.8" y="351.4" font-size="7" fill="#1a1a1a" stroke="#1a1a1a" stroke-width="0.2">Irf4</text>
<text x="134.4" y="357.6" font-size="7" fill="#1a1a1a" stroke="#1a1a1a" stroke-width="0.2">Kit</text>
<text x="108" y="360.8" font-size="7" fill="#1a1a1a" stroke="#1a1a1a" stroke-width="0.2">Rel</text>
<text x="122.3" y="367.6" font-size="7" fill="#1a1a1a" stroke="#1a1a1a" stroke-width="0.2">Cd274</text>
<line x1="35.9" y1="228.7" x2="35.9" y2="378.8" stroke="#111" stroke-width="1.2"/>
<line x1="35.3" y1="378.2" x2="186" y2="378.2" stroke="#111" stroke-width="1.2"/>
<line x1="32.9" y1="371.6" x2="35.9" y2="371.6" stroke="#111" stroke-width="1"/>
<text x="30.6" y="374.0" font-size="6.9" fill="#222" text-anchor="end" textLength="3.3" lengthAdjust="spacingAndGlyphs">0</text>
<line x1="32.9" y1="320.6" x2="35.9" y2="320.6" stroke="#111" stroke-width="1"/>
<text x="30.6" y="323.0" font-size="6.9" fill="#222" text-anchor="end" textLength="3.3" lengthAdjust="spacingAndGlyphs">5</text>
<line x1="32.9" y1="269.6" x2="35.9" y2="269.6" stroke="#111" stroke-width="1"/>
<text x="30.6" y="272.0" font-size="6.9" fill="#222" text-anchor="end" textLength="6.6" lengthAdjust="spacingAndGlyphs">10</text>
<line x1="43.300000000000004" y1="378.2" x2="43.300000000000004" y2="381.2" stroke="#111" stroke-width="1"/>
<text x="43.300000000000004" y="390.4" font-size="6.9" fill="#222" text-anchor="middle" textLength="11.8" lengthAdjust="spacingAndGlyphs">–5.0</text>
<line x1="71.35000000000001" y1="378.2" x2="71.35000000000001" y2="381.2" stroke="#111" stroke-width="1"/>
<text x="71.35000000000001" y="390.4" font-size="6.9" fill="#222" text-anchor="middle" textLength="11.8" lengthAdjust="spacingAndGlyphs">–2.5</text>
<line x1="99.4" y1="378.2" x2="99.4" y2="381.2" stroke="#111" stroke-width="1"/>
<text x="99.4" y="390.4" font-size="6.9" fill="#222" text-anchor="middle" textLength="8.1" lengthAdjust="spacingAndGlyphs">0.0</text>
<line x1="127.45" y1="378.2" x2="127.45" y2="381.2" stroke="#111" stroke-width="1"/>
<text x="127.45" y="390.4" font-size="6.9" fill="#222" text-anchor="middle" textLength="8.1" lengthAdjust="spacingAndGlyphs">2.5</text>
<line x1="155.5" y1="378.2" x2="155.5" y2="381.2" stroke="#111" stroke-width="1"/>
<text x="155.5" y="390.4" font-size="6.9" fill="#222" text-anchor="middle" textLength="8.1" lengthAdjust="spacingAndGlyphs">5.0</text>
<line x1="183.55" y1="378.2" x2="183.55" y2="381.2" stroke="#111" stroke-width="1"/>
<text x="183.55" y="390.4" font-size="6.9" fill="#222" text-anchor="middle" textLength="8.1" lengthAdjust="spacingAndGlyphs">7.5</text>
<text x="111.5" y="401.9" font-size="8.6" fill="#222" stroke="#222" stroke-width="0.12" text-anchor="middle" textLength="50.7" lengthAdjust="spacingAndGlyphs">Log<tspan font-size="5" dy="1.8">2</tspan><tspan dy="-1.8"> fold change</tspan></text>
<text x="15.4" y="303" font-size="7.8" fill="#222" stroke="#222" stroke-width="0.1" text-anchor="middle" transform="rotate(-90 15.4 303)" textLength="43.7" lengthAdjust="spacingAndGlyphs">-log<tspan font-size="4.5" dy="1.6">10</tspan><tspan dy="-1.6"> </tspan><tspan font-style="italic">P</tspan> value</text>
<rect x="0.5" y="0.5" width="519" height="411" fill="none" stroke="#404040" stroke-width="1.1"/>
</svg>
</body></html>
